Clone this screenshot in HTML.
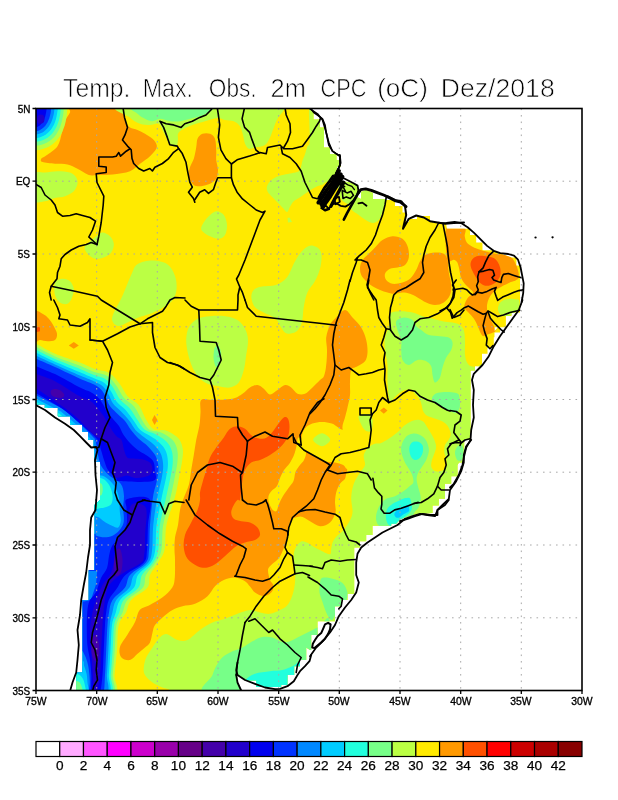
<!DOCTYPE html>
<html lang="pt"><head><meta charset="utf-8"><title>Temp. Max. Obs. 2m CPC (oC) Dez/2018</title>
<style>
html,body{margin:0;padding:0;background:#fff;}
body{width:618px;height:800px;overflow:hidden;position:relative;font-family:"Liberation Sans","DejaVu Sans",sans-serif;}
svg{position:absolute;left:0;top:0;display:block}
.ax{position:absolute;font-size:11.3px;line-height:12px;color:#000;white-space:nowrap;-webkit-text-stroke:0.35px #000;}
.ay{transform:scaleX(.88);transform-origin:right center;}
.axx{transform:scaleX(.92);transform-origin:center center;}
.cb{position:absolute;font-size:13.6px;line-height:14px;-webkit-text-stroke:0.25px #000;color:#000;width:30px;text-align:center;}
</style></head><body>
<svg width="618" height="800" viewBox="0 0 618 800">
<defs><clipPath id="fr"><rect x="36.0" y="108.5" width="546.0" height="582.0"/></clipPath>
<clipPath id="land"><path d="M36.0,108.5L310.0,108.5L313.5,112.0L313.5,119.5L320.0,119.5L320.0,127.5L324.0,127.5L324.0,147.5L330.0,147.5L330.0,154.0L336.5,154.0L336.5,160.0L340.5,160.0L340.5,167.0L337.0,167.0L337.0,176.0L335.0,180.0L338.0,181.0L348.0,182.0L357.0,185.0L359.0,192.0L357.0,197.0L361.0,199.0L361.0,192.0L366.0,190.0L373.0,193.0L373.0,199.0L386.0,199.0L386.0,200.0L395.0,200.0L395.0,206.0L402.5,206.0L402.5,212.5L406.0,212.5L406.0,222.0L409.0,222.0L409.0,219.0L417.0,219.0L417.0,216.0L430.0,216.0L430.0,222.0L433.0,222.0L433.0,223.0L446.0,223.0L446.9,228.8L470.0,228.8L470.0,235.0L476.2,235.0L476.2,242.5L482.5,242.5L482.5,250.2L491.9,250.2L511.5,257.6L516.4,257.6L516.4,265.4L520.0,265.4L520.0,312.6L511.5,312.6L511.5,316.1L505.9,316.1L505.9,327.2L494.5,327.2L494.5,337.3L488.8,337.3L500.0,325.0L500.0,332.5L493.8,332.5L493.8,347.5L487.5,347.5L487.5,353.8L482.0,353.8L482.0,366.2L475.0,366.2L475.0,370.5L470.5,370.5L470.5,440.0L464.2,440.0L464.2,447.5L462.0,462.5L457.5,462.5L457.5,475.0L452.0,475.0L462.5,456.2L462.5,462.5L457.5,462.5L457.5,476.2L451.2,476.2L451.2,483.8L445.0,483.8L445.0,498.8L438.8,498.8L438.8,505.5L432.5,505.5L432.5,513.0L415.0,514.2L405.0,517.5L400.0,519.5L396.2,523.8L391.2,523.8L391.2,525.8L372.5,525.8L372.5,535.0L366.2,535.0L366.2,541.2L360.0,541.2L360.0,547.5L354.2,547.5L354.2,593.8L347.5,593.8L347.5,600.0L341.2,600.0L341.2,606.2L335.0,606.2L335.0,621.2L317.5,621.2L317.5,635.0L311.2,635.0L311.2,650.0L310.0,650.0L306.2,647.5L306.2,660.0L300.0,660.0L300.0,666.2L294.2,666.2L294.2,675.0L287.5,675.0L287.5,685.0L281.2,685.0L281.2,687.0L256.2,687.0L256.2,680.5L245.0,680.5L241.2,676.2L237.0,675.0L237.5,683.8L241.2,690.5L70.0,690.5L76.2,690.5L76.2,672.5L82.5,672.5L82.5,600.0L88.8,600.0L88.8,570.0L94.5,570.0L94.5,505.0L100.0,500.0L100.0,461.8L94.5,461.8L94.5,447.2L93.7,447.2L93.7,439.8L88.0,439.8L88.0,431.7L82.3,431.7L82.3,424.4L70.1,424.4L70.1,416.3L57.9,416.3L57.9,408.1L44.9,408.1L44.9,404.3L34.0,404.3L36.0,108.5Z"/></clipPath></defs>
<g clip-path="url(#fr)"><g clip-path="url(#land)" shape-rendering="auto">
<path d="M30.0,100.0L600.0,100.0L600.0,700.0L30.0,700.0Z" fill="#ffea00"/>
<path d="M73.0,105.0C64.0,106.2 71.4,109.7 70.0,112.5C68.6,115.3 65.8,118.7 64.5,122.0C63.2,125.3 63.2,128.5 62.0,132.5C60.8,136.5 60.1,142.4 57.5,146.2C54.9,150.1 49.0,153.4 46.2,155.5C43.5,157.6 41.9,157.7 41.2,158.8C40.6,159.8 40.2,161.2 42.5,162.0C44.8,162.8 50.8,163.3 55.0,163.8C59.2,164.2 63.8,163.7 67.5,164.5C71.2,165.3 74.0,167.0 77.5,168.8C81.0,170.5 85.4,174.0 88.8,175.0C92.1,176.0 93.5,175.1 97.5,175.0C101.5,174.9 107.1,175.1 112.5,174.5C117.9,173.9 125.4,173.0 130.0,171.2C134.6,169.5 136.7,166.2 140.0,163.8C143.3,161.2 147.3,158.8 150.0,156.2C152.7,153.8 155.2,150.8 156.2,148.8C157.3,146.7 156.9,145.4 156.2,143.8C155.6,142.1 154.4,140.4 152.5,138.8C150.6,137.1 147.5,135.2 145.0,133.8C142.5,132.3 140.0,131.0 137.5,130.0C135.0,129.0 131.9,128.8 130.0,127.5C128.1,126.2 127.2,124.6 126.2,122.5C125.3,120.4 124.8,117.9 124.5,115.0C124.2,112.1 132.8,106.7 124.2,105.0C115.7,103.3 82.0,103.8 73.0,105.0Z" fill="#ff9900"/>
<path d="M202.5,133.8C204.6,132.9 207.9,132.9 210.0,133.8C212.1,134.6 214.0,136.0 215.0,138.8C216.0,141.5 216.0,146.5 216.2,150.0C216.5,153.5 216.0,156.7 216.2,160.0C216.5,163.3 218.0,166.9 218.0,170.0C218.0,173.1 217.6,176.5 216.2,178.8C214.9,181.0 212.5,182.5 210.0,183.8C207.5,185.0 204.0,186.0 201.2,186.2C198.5,186.5 195.8,186.5 193.8,185.0C191.7,183.5 189.5,180.2 188.8,177.5C188.0,174.8 188.7,171.9 189.5,168.8C190.3,165.6 192.6,162.3 193.8,158.8C194.9,155.2 195.6,150.8 196.2,147.5C196.9,144.2 196.5,141.0 197.5,138.8C198.5,136.5 200.4,134.6 202.5,133.8Z" fill="#ff9900"/>
<path d="M375.0,247.5C377.5,245.0 379.6,241.9 382.5,240.0C385.4,238.1 389.2,236.5 392.5,236.2C395.8,236.0 399.9,236.9 402.5,238.8C405.1,240.6 407.0,244.4 408.0,247.5C409.0,250.6 409.2,254.6 408.8,257.5C408.2,260.4 406.9,263.3 405.0,265.0C403.1,266.7 400.0,266.9 397.5,267.5C395.0,268.1 392.1,267.7 390.0,268.8C387.9,269.8 385.6,271.9 385.0,273.8C384.4,275.6 385.0,278.3 386.2,280.0C387.5,281.7 389.8,283.3 392.5,283.8C395.2,284.2 399.6,283.3 402.5,282.5C405.4,281.7 407.7,280.8 410.0,278.8C412.3,276.7 414.6,272.9 416.2,270.0C417.9,267.1 418.5,263.8 420.0,261.2C421.5,258.8 422.5,256.5 425.0,255.0C427.5,253.5 431.9,252.7 435.0,252.5C438.1,252.3 441.7,252.5 443.8,253.8C445.8,255.0 446.7,256.9 447.5,260.0C448.3,263.1 448.1,268.3 448.8,272.5C449.4,276.7 451.0,281.2 451.2,285.0C451.5,288.8 451.2,292.1 450.0,295.0C448.8,297.9 446.2,300.8 443.8,302.5C441.2,304.2 437.9,305.0 435.0,305.0C432.1,305.0 429.2,303.8 426.2,302.5C423.3,301.2 420.2,299.0 417.5,297.5C414.8,296.0 412.5,294.6 410.0,293.8C407.5,292.9 405.2,292.5 402.5,292.5C399.8,292.5 396.2,293.8 393.8,293.8C391.2,293.8 389.8,293.1 387.5,292.5C385.2,291.9 382.5,291.0 380.0,290.0C377.5,289.0 374.8,287.7 372.5,286.2C370.2,284.8 368.1,283.1 366.2,281.2C364.4,279.4 362.3,277.3 361.2,275.0C360.2,272.7 359.8,270.0 360.0,267.5C360.2,265.0 361.2,262.1 362.5,260.0C363.8,257.9 365.4,257.1 367.5,255.0C369.6,252.9 372.5,250.0 375.0,247.5Z" fill="#ff9900"/>
<path d="M446.5,228.0C449.3,222.5 461.4,226.7 464.4,228.0C467.4,229.4 464.3,233.7 464.7,236.1C465.1,238.6 465.5,240.9 466.8,242.6C468.1,244.4 470.2,245.5 472.5,246.7C474.8,247.9 478.1,249.1 480.6,250.0C483.2,250.9 485.5,251.4 488.0,252.1C490.4,252.7 492.4,253.2 495.3,253.7C498.1,254.2 502.3,254.2 505.0,254.8C507.8,255.5 509.8,256.1 511.5,257.6C513.3,259.1 514.5,261.7 515.6,263.8C516.7,265.9 517.5,268.0 518.0,270.3C518.6,272.6 519.3,275.9 518.9,277.6C518.5,279.3 517.0,279.6 515.6,280.4C514.3,281.1 512.4,281.3 510.7,282.0C509.1,282.7 507.5,283.8 505.9,284.6C504.2,285.4 502.6,286.0 501.0,286.9C499.4,287.7 497.6,288.6 496.1,289.8C494.6,291.0 492.9,292.4 491.7,293.9C490.5,295.4 489.5,297.0 488.8,298.7C488.0,300.5 487.4,302.5 487.1,304.4C486.9,306.3 486.9,308.4 487.1,310.1C487.4,311.9 488.1,313.2 488.8,315.0C489.5,316.8 490.3,318.7 491.2,320.7C492.2,322.7 493.8,325.4 494.5,327.2C495.1,329.0 495.7,330.3 495.3,331.3C494.9,332.2 493.4,332.3 492.0,332.9C490.7,333.4 488.6,334.0 487.1,334.5C485.7,335.1 484.2,336.4 483.1,336.1C482.0,335.9 481.5,334.4 480.6,332.9C479.8,331.4 479.3,329.5 478.2,327.2C477.1,324.9 475.8,321.5 474.1,319.1C472.5,316.6 470.1,314.5 468.5,312.6C466.8,310.7 464.9,309.3 464.4,307.7C463.8,306.1 464.5,304.6 465.2,302.8C465.9,301.0 467.1,298.7 468.5,297.1C469.8,295.5 473.1,294.4 473.3,293.1C473.6,291.7 471.6,290.6 470.1,289.0C468.6,287.4 465.9,285.3 464.4,283.3C462.8,281.3 461.7,279.2 460.8,276.8C459.9,274.4 459.8,271.1 459.2,268.7C458.6,266.2 458.0,263.6 457.1,262.1C456.2,260.7 455.0,259.9 453.8,259.7C452.7,259.6 451.2,261.1 450.1,261.3C449.0,261.6 447.9,266.9 447.3,261.3C446.7,255.8 443.7,233.6 446.5,228.0Z" fill="#ff9900"/>
<path d="M201.2,400.0C203.2,397.9 207.3,400.2 212.5,400.0C217.7,399.8 227.5,399.8 232.5,398.8C237.5,397.7 239.6,395.6 242.5,393.8C245.4,391.9 247.5,389.0 250.0,387.5C252.5,386.0 255.2,384.8 257.5,385.0C259.8,385.2 261.7,387.2 263.8,388.8C265.8,390.3 267.7,394.3 270.0,394.5C272.3,394.7 275.0,391.6 277.5,390.0C280.0,388.4 282.7,385.4 285.0,385.0C287.3,384.6 289.2,386.0 291.2,387.5C293.3,389.0 295.2,392.7 297.5,393.8C299.8,394.8 302.5,394.8 305.0,393.8C307.5,392.7 310.0,389.8 312.5,387.5C315.0,385.2 318.1,381.9 320.0,380.0C321.9,378.1 323.0,378.5 324.0,376.0C325.0,373.5 325.8,369.3 326.2,365.0C326.8,360.7 327.0,354.6 327.0,350.0C327.0,345.4 325.8,341.7 326.2,337.5C326.8,333.3 328.3,328.3 330.0,325.0C331.7,321.7 333.8,320.0 336.2,317.5C338.8,315.0 342.3,310.0 345.0,310.0C347.7,310.0 349.8,314.6 352.5,317.5C355.2,320.4 359.0,323.8 361.2,327.5C363.5,331.2 365.2,335.8 366.2,340.0C367.3,344.2 367.7,349.0 367.5,352.5C367.3,356.0 366.7,359.0 365.0,361.2C363.3,363.5 359.8,364.8 357.5,366.2C355.2,367.7 352.5,367.3 351.2,370.0C350.0,372.7 350.2,378.3 350.0,382.5C349.8,386.7 350.4,390.8 350.0,395.0C349.6,399.2 348.3,403.8 347.5,407.5C346.7,411.2 345.9,414.1 345.0,417.5C344.1,420.9 342.4,423.9 342.4,427.6C342.4,431.4 344.4,435.4 345.0,440.0C345.6,444.6 345.6,450.1 346.0,455.0C346.4,459.9 347.2,466.1 347.2,469.1C347.2,472.1 346.6,471.4 346.2,473.0C345.9,474.6 346.0,477.0 345.0,478.8C344.0,480.5 341.5,481.5 340.0,483.8C338.5,486.0 337.1,489.4 336.2,492.5C335.4,495.6 335.1,499.2 335.0,502.5C334.9,505.8 336.3,509.2 335.5,512.5C334.7,515.8 332.6,520.2 330.0,522.5C327.4,524.8 323.3,526.5 320.0,526.2C316.7,526.0 313.3,522.9 310.0,521.2C306.7,519.6 303.3,516.3 300.0,516.5C296.7,516.7 292.4,518.0 290.0,522.2C287.6,526.5 287.4,536.0 285.8,541.8C284.1,547.5 282.4,552.6 280.0,556.5C277.6,560.4 273.2,562.8 271.2,565.0C269.2,567.2 268.2,567.5 268.0,570.0C267.8,572.5 269.1,577.4 270.0,580.0C270.9,582.6 273.3,583.7 273.5,585.8C273.7,587.8 272.9,590.8 271.2,592.5C269.6,594.2 266.5,596.2 263.8,596.2C261.0,596.2 257.3,594.1 255.0,592.5C252.7,590.9 251.7,588.4 250.0,586.5C248.3,584.6 247.5,582.8 245.0,581.2C242.5,579.8 238.5,577.7 235.0,577.5C231.5,577.3 227.1,578.5 223.8,580.0C220.4,581.5 217.7,583.5 215.0,586.2C212.3,589.0 210.8,593.3 207.5,596.2C204.2,599.2 199.2,602.1 195.0,603.8C190.8,605.4 186.2,605.2 182.5,606.2C178.8,607.3 175.8,608.1 172.5,610.0C169.2,611.9 165.4,615.0 162.5,617.5C159.6,620.0 156.7,622.5 155.0,625.0C153.3,627.5 153.3,629.6 152.5,632.5C151.7,635.4 151.2,640.0 150.0,642.5C148.8,645.0 147.1,645.6 145.0,647.5C142.9,649.4 140.0,651.7 137.5,653.8C135.0,655.8 132.7,659.4 130.0,660.0C127.3,660.6 122.9,659.3 121.2,657.2C119.5,655.1 118.9,650.9 119.9,647.2C120.9,643.5 124.9,638.9 127.4,634.8C129.9,630.6 132.8,626.5 134.9,622.3C137.0,618.1 137.4,612.7 139.9,609.8C142.4,606.9 146.1,607.0 149.8,604.9C153.5,602.8 158.6,600.3 162.3,597.4C166.1,594.5 170.2,590.7 172.3,587.4C174.4,584.1 174.3,582.0 174.8,577.4C175.2,572.8 175.0,564.6 175.0,560.0C175.0,555.4 174.5,553.8 174.5,550.0C174.5,546.2 174.4,541.7 175.0,537.5C175.6,533.3 177.2,529.6 178.0,525.0C178.8,520.4 179.2,514.2 180.0,510.0C180.8,505.8 181.5,504.2 183.0,500.0C184.5,495.8 187.4,490.0 188.8,485.0C190.1,480.0 190.4,475.0 191.2,470.0C192.1,465.0 192.9,460.0 193.8,455.0C194.6,450.0 195.3,445.0 196.2,440.0C197.2,435.0 198.8,429.6 199.5,425.0C200.2,420.4 200.2,416.7 200.5,412.5C200.8,408.3 199.2,402.1 201.2,400.0Z" fill="#ff9900"/>
<path d="M301.7,436.6C302.1,434.0 303.2,430.6 305.0,428.5C306.7,426.3 309.4,424.7 312.3,423.6C315.1,422.5 318.8,421.9 322.0,421.9C325.3,421.9 329.1,422.6 331.8,423.6C334.5,424.5 336.4,426.6 338.3,427.6C340.2,428.7 340.5,429.7 343.2,430.1C345.9,430.5 352.7,423.7 354.6,430.1C356.4,436.4 355.8,461.8 354.6,468.3C353.3,474.8 349.1,469.7 347.2,469.1C345.3,468.6 345.2,466.1 343.2,465.0C341.1,464.0 337.8,463.1 335.0,462.6C332.3,462.1 329.3,462.3 326.9,461.8C324.5,461.2 322.8,460.4 320.4,459.4C318.0,458.3 314.7,456.8 312.3,455.3C309.8,453.8 307.4,452.3 305.8,450.4C304.1,448.5 303.2,446.2 302.5,443.9C301.8,441.6 301.3,439.2 301.7,436.6Z" fill="#ffea00"/>
<path d="M302.0,440.0C303.3,442.3 305.7,448.7 306.0,452.0C306.3,455.3 305.0,457.8 304.0,460.0C303.0,462.2 301.4,463.0 300.0,465.0C298.6,467.0 296.6,469.3 295.5,472.0C294.4,474.7 294.7,478.3 293.5,481.0C292.3,483.7 290.2,485.5 288.5,488.0C286.8,490.5 284.6,493.3 283.0,496.0C281.4,498.7 280.1,501.5 279.0,504.0C277.9,506.5 277.5,510.0 276.5,511.0C275.5,512.0 274.1,511.3 272.8,510.0C271.6,508.7 269.7,505.3 269.0,503.0C268.3,500.7 268.1,498.3 268.5,496.3C268.9,494.3 270.1,492.7 271.5,491.0C272.9,489.3 275.6,488.2 277.0,486.0C278.4,483.8 278.8,480.7 280.0,478.0C281.2,475.3 282.4,472.4 284.0,470.0C285.6,467.6 287.8,465.9 289.5,463.4C291.2,460.9 292.8,457.9 294.0,455.0C295.2,452.1 295.8,448.8 296.5,446.0C297.2,443.2 297.1,439.0 298.0,438.0C298.9,437.0 300.7,437.7 302.0,440.0Z" fill="#ffea00"/>
<path d="M35.0,312.5C36.2,308.1 40.2,312.7 42.5,313.8C44.8,314.8 46.9,316.7 48.8,318.8C50.6,320.8 52.4,323.8 53.8,326.2C55.1,328.8 56.8,331.5 57.0,333.8C57.2,336.0 56.6,338.8 55.0,340.0C53.4,341.2 50.0,341.2 47.5,341.2C45.0,341.2 42.1,340.2 40.0,340.0C37.9,339.8 35.8,344.6 35.0,340.0C34.2,335.4 33.8,316.9 35.0,312.5Z" fill="#ff9900"/>
<path d="M68.8,345.5L73.8,342.0L78.8,345.5L73.8,348.8Z" fill="#ff9900"/>
<path d="M152.0,420.0L154.5,415.0L157.5,420.0L154.5,425.0Z" fill="#ff9900"/>
<path d="M380.0,410.5L383.8,407.5L387.5,410.5L383.8,413.8Z" fill="#ff9900"/>
<path d="M230.0,428.8C232.3,426.9 235.0,426.2 237.5,426.2C240.0,426.2 242.5,427.1 245.0,428.8C247.5,430.4 249.6,434.6 252.5,436.2C255.4,437.9 259.6,439.0 262.5,438.8C265.4,438.5 267.5,437.3 270.0,435.0C272.5,432.7 275.2,427.9 277.5,425.0C279.8,422.1 282.0,418.5 283.8,417.5C285.5,416.5 287.0,417.1 288.0,418.8C289.0,420.4 289.6,424.4 289.5,427.5C289.4,430.6 289.1,434.2 287.5,437.5C285.9,440.8 282.9,444.6 280.0,447.5C277.1,450.4 273.3,452.9 270.0,455.0C266.7,457.1 263.1,458.8 260.0,460.0C256.9,461.2 253.8,460.8 251.2,462.5C248.8,464.2 246.5,467.1 245.0,470.0C243.5,472.9 243.1,476.7 242.5,480.0C241.9,483.3 241.7,486.7 241.2,490.0C240.8,493.3 240.6,498.3 240.0,500.0C239.4,501.7 238.5,499.2 237.5,500.0C236.5,500.8 234.8,502.9 233.8,505.0C232.7,507.1 231.2,510.2 231.2,512.5C231.2,514.8 232.1,517.3 233.8,518.8C235.4,520.2 238.5,520.6 241.2,521.2C244.0,521.9 247.3,521.5 250.0,522.5C252.7,523.5 255.8,525.4 257.5,527.5C259.2,529.6 260.4,532.9 260.0,535.0C259.6,537.1 257.5,538.8 255.0,540.0C252.5,541.2 248.1,541.5 245.0,542.5C241.9,543.5 239.2,544.4 236.2,546.2C233.3,548.1 230.6,551.0 227.5,553.8C224.4,556.5 220.8,560.2 217.5,562.5C214.2,564.8 210.8,566.9 207.5,567.5C204.2,568.1 200.8,567.7 197.5,566.2C194.2,564.8 189.8,561.9 187.5,558.8C185.2,555.6 184.2,551.5 183.8,547.5C183.3,543.5 183.8,539.2 185.0,535.0C186.2,530.8 189.2,526.7 191.2,522.5C193.3,518.3 196.0,513.8 197.5,510.0C199.0,506.2 199.6,502.9 200.0,500.0C200.4,497.1 199.6,495.4 200.0,492.5C200.4,489.6 201.5,486.2 202.5,482.5C203.5,478.8 205.0,474.2 206.2,470.0C207.5,465.8 208.3,461.2 210.0,457.5C211.7,453.8 214.0,450.8 216.2,447.5C218.5,444.2 221.5,440.6 223.8,437.5C226.0,434.4 227.7,430.6 230.0,428.8Z" fill="#ff5000"/>
<path d="M470.9,262.1C471.4,260.6 472.7,258.7 474.1,257.6C475.6,256.5 477.7,255.8 479.8,255.7C482.0,255.5 484.8,256.1 487.1,256.5C489.5,256.9 491.9,257.1 493.7,258.1C495.4,259.0 496.6,260.5 497.7,262.1C498.8,263.8 499.7,265.8 500.2,267.9C500.6,269.9 500.8,272.5 500.5,274.4C500.2,276.2 499.5,277.7 498.5,279.2C497.5,280.7 496.1,282.2 494.5,283.3C492.8,284.4 490.7,285.5 488.8,285.7C486.9,286.0 484.7,285.6 483.1,284.9C481.5,284.2 480.2,282.9 479.0,281.7C477.9,280.5 477.0,279.1 476.1,277.6C475.2,276.1 474.2,274.5 473.3,272.7C472.5,271.0 471.3,268.8 470.9,267.0C470.5,265.3 470.3,263.7 470.9,262.1Z" fill="#ff5000"/>
<path d="M34.5,326.2L40.0,327.5L40.0,331.2L34.5,332.5Z" fill="#ff5000"/>
<path d="M125.5,105.0C99.7,107.1 127.6,114.4 130.0,117.5C132.4,120.6 136.7,122.5 140.0,123.8C143.3,125.0 146.9,125.0 150.0,125.0C153.1,125.0 156.7,122.9 158.8,123.8C160.8,124.6 161.2,127.7 162.5,130.0C163.8,132.3 165.0,135.0 166.2,137.5C167.5,140.0 168.3,143.5 170.0,145.0C171.7,146.5 174.9,147.1 176.2,146.2C177.6,145.4 177.7,142.1 178.0,140.0C178.3,137.9 177.2,135.5 178.0,133.8C178.8,132.0 180.1,131.0 182.5,129.5C184.9,128.0 188.8,126.4 192.5,125.0C196.2,123.6 200.8,122.4 205.0,121.2C209.2,120.1 214.2,118.2 217.5,118.0C220.8,117.8 222.3,119.5 225.0,120.0C227.7,120.5 231.2,120.2 233.8,121.2C236.2,122.3 238.5,124.0 240.0,126.2C241.5,128.5 242.2,132.1 243.0,135.0C243.8,137.9 244.0,141.5 245.0,143.8C246.0,146.0 247.1,148.1 248.8,148.8C250.4,149.4 252.3,148.1 255.0,147.5C257.7,146.9 262.5,146.7 265.0,145.0C267.5,143.3 268.5,140.4 270.0,137.5C271.5,134.6 272.5,130.6 273.8,127.5C275.0,124.4 275.8,121.7 277.5,118.8C279.2,115.8 282.5,112.3 283.8,110.0C285.0,107.7 311.4,105.8 285.0,105.0C258.6,104.2 151.3,102.9 125.5,105.0Z" fill="#bbff44"/>
<path d="M309.7,100.0C308.0,106.7 310.1,132.2 309.7,140.0C309.3,147.8 308.1,144.1 307.3,146.5C306.5,148.9 305.7,152.2 304.9,154.6C304.1,157.0 303.1,158.8 302.4,161.0C301.7,163.2 301.5,165.7 300.8,167.5C300.1,169.3 299.9,170.7 298.4,171.6C296.9,172.5 294.3,172.7 291.9,173.2C289.5,173.7 286.5,174.1 283.8,174.8C281.1,175.5 278.0,176.1 275.7,177.2C273.4,178.3 271.6,179.7 270.1,181.3C268.6,182.9 267.2,185.2 266.8,186.9C266.4,188.7 266.9,190.2 267.7,191.8C268.5,193.4 270.1,194.8 271.7,196.6C273.3,198.3 275.5,200.4 277.4,202.3C279.3,204.2 281.4,206.4 283.0,208.0C284.6,209.6 285.9,212.3 287.1,212.0C288.3,211.7 289.2,208.1 290.3,206.3C291.4,204.6 292.1,202.8 293.5,201.5C294.9,200.2 296.8,199.4 298.4,198.3C300.0,197.2 301.7,196.1 303.3,195.0C304.9,193.9 306.5,192.9 308.1,191.8C309.7,190.7 311.4,189.4 313.0,188.5C314.6,187.6 316.2,186.8 317.8,186.1C319.4,185.4 321.3,185.2 322.7,184.5C324.1,183.8 324.1,182.8 326.0,182.0C327.9,181.2 331.3,182.0 334.0,180.0C336.7,178.0 340.2,175.0 342.0,170.0C343.8,165.0 346.2,158.3 345.0,150.0C343.8,141.7 339.2,128.3 335.0,120.0C330.8,111.7 324.2,103.3 320.0,100.0C315.8,96.7 311.4,93.3 309.7,100.0Z" fill="#bbff44"/>
<path d="M287.5,218.0L289.5,217.5L292.0,222.0L288.0,222.5Z" fill="#bbff44"/>
<path d="M337.4,180.7C338.3,178.7 341.4,176.8 343.8,176.7C346.3,176.6 349.4,178.7 351.9,179.9C354.5,181.2 357.7,182.4 359.2,184.0C360.7,185.6 359.9,189.1 360.8,189.6C361.8,190.2 362.8,187.4 364.9,187.2C366.9,187.1 370.3,188.0 373.0,188.8C375.7,189.6 378.8,190.9 381.1,192.1C383.3,193.3 386.0,194.0 386.7,196.1C387.4,198.3 385.8,202.5 385.1,205.0C384.4,207.6 383.5,209.3 382.7,211.5C381.9,213.6 381.3,216.2 380.2,218.0C379.2,219.7 377.7,221.2 376.2,222.0C374.7,222.8 373.2,223.2 371.3,222.8C369.5,222.4 367.0,220.9 364.9,219.6C362.7,218.2 360.6,216.3 358.4,214.7C356.2,213.1 353.5,211.5 351.9,209.9C350.3,208.3 350.0,206.4 348.7,205.0C347.3,203.7 345.3,203.1 343.8,201.8C342.3,200.4 340.7,199.1 339.8,196.9C338.8,194.8 338.6,191.5 338.2,188.8C337.8,186.1 336.4,182.8 337.4,180.7Z" fill="#bbff44"/>
<path d="M33.8,174.5C35.6,169.9 41.0,173.0 45.0,172.5C49.0,172.0 53.3,171.2 57.5,171.2C61.7,171.2 66.9,171.5 70.0,172.5C73.1,173.5 75.0,175.6 76.2,177.5C77.5,179.4 77.9,181.5 77.5,183.8C77.1,186.0 75.8,189.2 73.8,191.2C71.7,193.3 68.1,195.1 65.0,196.2C61.9,197.4 58.3,197.2 55.0,198.0C51.7,198.8 48.5,200.9 45.0,201.2C41.5,201.6 35.6,204.5 33.8,200.0C31.9,195.5 31.9,179.1 33.8,174.5Z" fill="#bbff44"/>
<path d="M102.5,232.5C104.8,232.5 108.1,234.4 110.0,236.2C111.9,238.1 113.5,241.0 113.8,243.8C114.0,246.5 112.9,250.2 111.2,252.5C109.6,254.8 106.5,256.5 103.8,257.5C101.0,258.5 97.7,259.4 95.0,258.8C92.3,258.1 89.2,255.6 87.5,253.8C85.8,251.9 84.3,249.4 84.5,247.5C84.7,245.6 86.8,244.4 88.8,242.5C90.7,240.6 94.0,237.9 96.2,236.2C98.5,234.6 100.2,232.5 102.5,232.5Z" fill="#bbff44"/>
<path d="M113.0,314.8C114.6,310.4 119.3,302.9 122.4,296.0C125.5,289.1 129.3,278.9 131.8,273.6C134.3,268.3 134.0,266.5 137.4,264.3C140.8,262.1 147.3,260.6 152.3,260.6C157.3,260.6 163.6,261.8 167.3,264.3C171.1,266.8 173.2,271.4 174.8,275.5C176.4,279.6 176.9,284.6 176.6,288.6C176.3,292.7 175.1,296.7 172.9,299.8C170.7,302.9 167.0,305.1 163.6,307.3C160.2,309.5 156.1,311.3 152.3,312.9C148.6,314.4 145.2,315.1 141.1,316.6C137.0,318.2 131.7,320.6 128.0,322.2C124.3,323.8 121.2,326.0 118.7,326.0C116.2,326.0 114.0,324.1 113.0,322.2C112.0,320.3 111.4,319.2 113.0,314.8Z" fill="#bbff44"/>
<path d="M55.0,282.5C56.2,279.8 60.0,279.0 62.5,278.8C65.0,278.5 68.1,279.6 70.0,281.2C71.9,282.9 73.4,286.0 73.8,288.8C74.1,291.5 73.0,295.0 72.0,297.5C71.0,300.0 69.5,302.9 67.5,303.8C65.5,304.6 62.1,304.0 60.0,302.5C57.9,301.0 55.8,298.3 55.0,295.0C54.2,291.7 53.8,285.2 55.0,282.5Z" fill="#bbff44"/>
<path d="M186.2,340.0C186.4,335.6 186.9,331.0 188.8,327.5C190.6,324.0 194.0,320.6 197.5,318.8C201.0,316.9 205.4,316.7 210.0,316.2C214.6,315.8 220.4,315.6 225.0,316.2C229.6,316.9 234.2,317.9 237.5,320.0C240.8,322.1 243.2,325.4 245.0,328.8C246.8,332.1 247.8,335.6 248.0,340.0C248.2,344.4 247.0,350.0 246.2,355.0C245.5,360.0 245.0,365.4 243.8,370.0C242.5,374.6 241.0,379.6 238.8,382.5C236.5,385.4 233.3,386.9 230.0,387.5C226.7,388.1 222.5,386.9 218.8,386.2C215.0,385.6 210.8,385.2 207.5,383.8C204.2,382.3 201.2,380.2 198.8,377.5C196.2,374.8 194.3,371.5 192.5,367.5C190.7,363.5 189.0,358.3 188.0,353.8C187.0,349.2 186.1,344.4 186.2,340.0Z" fill="#bbff44"/>
<path d="M253.3,290.5C254.9,288.6 257.0,287.6 260.7,286.7C264.4,285.8 271.3,286.4 275.7,284.9C280.1,283.3 283.8,281.1 286.9,277.4C290.0,273.6 291.9,266.8 294.4,262.4C296.9,258.0 299.1,254.0 301.9,251.2C304.7,248.4 308.1,245.6 311.2,245.6C314.3,245.6 319.0,247.8 320.6,251.2C322.2,254.6 321.5,261.2 320.6,266.2C319.7,271.2 317.2,276.8 315.0,281.1C312.8,285.5 309.4,287.9 307.5,292.3C305.6,296.7 304.6,302.3 303.7,307.3C302.8,312.3 303.1,318.1 301.9,322.2C300.7,326.2 298.8,329.7 296.3,331.6C293.8,333.5 289.4,334.1 286.9,333.5C284.4,332.9 283.2,330.4 281.3,327.9C279.4,325.4 278.5,321.0 275.7,318.5C272.9,316.0 267.9,314.8 264.5,312.9C261.1,311.0 257.3,309.8 255.1,307.3C252.9,304.8 251.7,300.8 251.4,298.0C251.1,295.2 251.8,292.4 253.3,290.5Z" fill="#bbff44"/>
<path d="M313.1,439.8C313.1,437.7 319.2,433.3 322.0,433.3C324.9,433.3 330.2,437.7 330.2,439.8C330.2,442.0 324.9,446.3 322.0,446.3C319.2,446.3 313.1,442.0 313.1,439.8Z" fill="#bbff44"/>
<path d="M498.8,305.0C499.6,302.9 501.5,301.0 503.8,300.0C506.0,299.0 510.2,298.3 512.5,298.8C514.8,299.2 516.8,300.6 517.5,302.5C518.2,304.4 518.0,307.9 517.0,310.0C516.0,312.1 513.5,314.0 511.2,315.0C509.0,316.0 505.8,316.7 503.8,316.2C501.7,315.8 499.6,314.4 498.8,312.5C497.9,310.6 497.9,307.1 498.8,305.0Z" fill="#bbff44"/>
<path d="M498.8,306.2C499.6,304.6 501.5,302.3 503.8,301.2C506.0,300.2 510.0,300.2 512.5,300.0C515.0,299.8 517.7,298.3 518.8,300.0C519.8,301.7 520.0,307.7 518.8,310.0C517.5,312.3 513.8,313.1 511.2,313.8C508.8,314.4 505.8,314.2 503.8,313.8C501.7,313.3 499.6,312.5 498.8,311.2C497.9,310.0 497.9,307.9 498.8,306.2Z" fill="#bbff44"/>
<path d="M359.2,415.5C361.0,414.2 369.2,413.1 371.2,415.5C373.3,417.9 372.7,427.5 371.8,430.0C370.8,432.5 367.4,431.7 365.5,430.5C363.6,429.3 361.5,425.5 360.5,423.0C359.5,420.5 357.5,416.8 359.2,415.5Z" fill="#bbff44"/>
<path d="M390.0,313.8C391.8,311.5 396.2,311.5 400.0,311.2C403.8,311.0 408.8,311.7 412.5,312.5C416.2,313.3 419.2,315.2 422.5,316.2C425.8,317.3 429.2,317.9 432.5,318.8C435.8,319.6 439.2,320.6 442.5,321.2C445.8,321.9 449.6,321.9 452.5,322.5C455.4,323.1 458.1,323.6 460.0,325.0C461.9,326.4 463.2,328.2 464.0,331.0C464.8,333.8 464.8,338.0 465.0,342.0C465.2,346.0 464.5,351.3 465.0,355.0C465.5,358.7 466.3,362.0 468.0,364.0C469.7,366.0 470.5,366.5 475.0,367.0C479.5,367.5 491.7,353.2 495.0,367.0C498.3,380.8 504.2,424.5 495.0,450.0C485.8,475.5 455.8,505.0 440.0,520.0C424.2,535.0 413.3,526.7 400.0,540.0C386.7,553.3 371.7,583.3 360.0,600.0C348.3,616.7 341.7,626.7 330.0,640.0C318.3,653.3 303.3,670.0 290.0,680.0C276.7,690.0 270.0,696.7 250.0,700.0C230.0,703.3 183.3,701.6 170.0,700.0C156.7,698.4 171.2,692.6 170.0,690.5C168.8,688.4 165.4,688.8 162.5,687.5C159.6,686.2 155.4,684.6 152.5,682.5C149.6,680.4 146.5,677.5 145.0,675.0C143.5,672.5 143.5,670.4 143.8,667.5C144.0,664.6 144.8,660.8 146.2,657.5C147.7,654.2 150.4,650.6 152.5,647.5C154.6,644.4 156.5,641.0 158.8,638.8C161.0,636.5 163.1,633.8 166.2,634.0C169.4,634.2 174.0,639.0 177.5,640.0C181.0,641.0 183.8,641.7 187.5,640.0C191.2,638.3 195.8,632.9 200.0,630.0C204.2,627.1 208.3,624.4 212.5,622.5C216.7,620.6 220.8,620.2 225.0,618.8C229.2,617.3 233.3,615.2 237.5,613.8C241.7,612.3 246.2,610.2 250.0,610.0C253.8,609.8 256.7,611.9 260.0,612.5C263.3,613.1 266.7,614.2 270.0,613.8C273.3,613.3 277.1,611.5 280.0,610.0C282.9,608.5 285.4,607.5 287.5,605.0C289.6,602.5 291.2,598.8 292.5,595.0C293.8,591.2 294.6,586.7 295.0,582.5C295.4,578.3 295.2,574.2 295.0,570.0C294.8,565.8 293.4,561.2 293.5,557.5C293.6,553.8 294.2,550.7 295.5,548.0C296.8,545.3 299.3,542.4 301.2,541.5C303.1,540.6 304.9,541.7 306.9,542.6C308.9,543.5 311.2,545.5 313.4,546.7C315.6,547.9 317.7,548.8 319.9,549.9C322.1,551.0 324.6,552.5 326.4,553.2C328.2,553.9 329.7,554.8 330.5,554.0C331.3,553.2 330.9,550.3 331.3,548.3C331.7,546.3 331.9,543.8 332.9,541.8C333.8,539.8 335.4,537.9 337.0,536.1C338.6,534.3 340.7,533.3 342.7,531.0C344.7,528.7 347.1,525.6 348.8,522.5C350.4,519.4 352.1,516.7 352.5,512.5C352.9,508.3 351.0,502.3 351.2,497.5C351.5,492.7 352.3,487.9 353.8,483.8C355.2,479.6 358.1,475.6 360.0,472.5C361.9,469.4 364.4,467.9 365.0,465.0C365.6,462.1 363.1,457.9 363.8,455.0C364.4,452.1 366.9,449.4 368.8,447.5C370.6,445.6 373.1,444.4 375.0,443.8C376.9,443.1 378.4,443.9 380.0,443.4C381.6,442.9 383.0,442.1 384.9,441.0C386.8,439.9 389.2,438.4 391.4,436.9C393.6,435.4 395.7,433.9 397.9,432.0C400.1,430.1 402.2,427.2 404.4,425.5C406.6,423.8 408.7,422.4 410.9,421.5C413.1,420.6 415.4,419.8 417.4,419.8C419.4,419.8 421.5,420.3 423.1,421.5C424.7,422.7 425.9,425.2 427.2,427.2C428.5,429.2 430.0,431.5 431.2,433.7C432.4,435.9 433.7,438.0 434.5,440.2C435.3,442.4 436.1,444.5 436.1,446.7C436.1,448.9 435.2,451.0 434.5,453.2C433.8,455.4 432.6,457.5 432.0,459.7C431.4,461.9 430.9,464.4 431.2,466.2C431.5,467.9 432.5,469.3 433.7,470.2C434.9,471.1 436.8,471.5 438.5,471.4C440.2,471.3 442.8,470.5 444.2,469.4C445.6,468.3 446.4,466.5 446.7,464.6C447.0,462.7 446.3,460.2 445.9,458.0C445.5,455.8 444.3,453.7 444.2,451.5C444.1,449.3 444.3,446.9 445.0,445.0C445.7,443.1 447.4,441.8 448.3,440.2C449.2,438.6 450.4,436.9 450.7,435.3C451.0,433.7 450.6,432.2 449.9,430.4C449.2,428.6 448.2,426.3 446.7,424.7C445.2,423.1 443.2,421.8 441.0,420.7C438.8,419.6 436.0,419.0 433.7,418.2C431.4,417.4 429.0,417.0 427.2,415.8C425.4,414.6 424.1,412.8 423.1,410.9C422.2,409.0 422.2,406.6 421.5,404.4C420.8,402.2 420.1,399.7 419.0,397.9C417.9,396.1 416.2,395.1 415.0,393.8C413.8,392.5 413.5,390.4 411.7,389.8C409.9,389.2 407.0,389.2 404.4,390.1C401.8,391.0 398.7,393.7 396.3,395.4C393.9,397.1 391.3,402.4 389.8,400.3C388.3,398.2 387.9,388.4 387.5,382.5C387.1,376.6 387.9,370.4 387.5,365.0C387.1,359.6 385.4,354.6 385.0,350.0C384.6,345.4 384.2,341.7 385.0,337.5C385.8,333.3 388.7,329.0 389.5,325.0C390.3,321.0 388.2,316.0 390.0,313.8Z" fill="#bbff44"/>
<path d="M201.2,227.5C201.9,225.0 205.0,220.2 207.5,217.5C210.0,214.8 213.5,211.7 216.2,211.2C219.0,210.8 222.0,212.7 223.8,215.0C225.5,217.3 226.8,221.7 227.0,225.0C227.2,228.3 226.4,232.7 225.0,235.0C223.6,237.3 221.2,238.5 218.8,238.8C216.2,239.0 212.5,237.3 210.0,236.2C207.5,235.2 205.2,234.0 203.8,232.5C202.3,231.0 200.6,230.0 201.2,227.5Z" fill="#bbff44"/>
<path d="M132.5,103.8C145.0,102.1 200.0,102.3 212.5,103.8C225.0,105.2 209.6,110.4 207.5,112.5C205.4,114.6 202.9,115.2 200.0,116.2C197.1,117.3 193.3,117.9 190.0,118.8C186.7,119.6 183.3,120.8 180.0,121.2C176.7,121.7 173.3,121.7 170.0,121.2C166.7,120.8 162.9,118.8 160.0,118.8C157.1,118.8 155.0,121.2 152.5,121.2C150.0,121.2 147.5,120.0 145.0,118.8C142.5,117.5 139.6,116.2 137.5,113.8C135.4,111.2 120.0,105.4 132.5,103.8Z" fill="#77ff88"/>
<path d="M215.0,347.5C215.8,346.5 217.7,345.2 218.8,346.2C219.8,347.3 221.0,351.0 221.2,353.8C221.5,356.5 220.8,360.3 220.0,362.5C219.2,364.7 217.3,367.4 216.2,367.0C215.2,366.6 214.2,362.4 213.8,360.0C213.3,357.6 213.5,354.6 213.8,352.5C214.0,350.4 214.2,348.5 215.0,347.5Z" fill="#77ff88"/>
<path d="M396.2,321.2C397.3,319.2 401.0,317.7 403.8,317.5C406.5,317.3 410.4,318.5 412.5,320.0C414.6,321.5 414.8,324.6 416.2,326.2C417.7,327.9 419.2,328.5 421.2,330.0C423.3,331.5 425.6,334.0 428.8,335.0C431.9,336.0 436.7,335.8 440.0,336.2C443.3,336.7 446.7,336.5 448.8,337.5C450.8,338.5 452.1,340.4 452.5,342.5C452.9,344.6 452.3,347.5 451.2,350.0C450.2,352.5 447.7,354.6 446.2,357.5C444.8,360.4 443.5,364.2 442.5,367.5C441.5,370.8 441.2,375.0 440.0,377.5C438.8,380.0 436.2,382.9 435.0,382.5C433.8,382.1 433.1,377.7 432.5,375.0C431.9,372.3 432.3,368.5 431.2,366.2C430.2,364.0 428.5,362.3 426.2,361.2C424.0,360.2 420.4,359.4 417.5,360.0C414.6,360.6 411.2,365.0 408.8,365.0C406.2,365.0 403.8,362.5 402.5,360.0C401.2,357.5 401.5,353.3 401.2,350.0C401.0,346.7 401.9,343.3 401.2,340.0C400.6,336.7 398.3,333.1 397.5,330.0C396.7,326.9 395.2,323.3 396.2,321.2Z" fill="#77ff88"/>
<path d="M432.0,397.9C432.4,396.7 433.7,394.8 435.3,393.8C436.9,392.9 439.1,392.5 441.8,392.2C444.5,391.9 448.8,391.9 451.5,392.2C454.2,392.5 456.6,392.6 458.0,393.8C459.4,395.0 459.4,397.2 459.7,399.5C460.0,401.8 460.2,405.4 459.7,407.6C459.1,409.8 457.8,411.8 456.4,412.5C455.0,413.2 453.1,412.1 451.5,411.7C449.9,411.3 448.2,410.8 446.7,410.1C445.2,409.4 444.2,408.6 442.6,407.6C441.0,406.7 438.5,405.5 436.9,404.4C435.3,403.3 433.6,402.2 432.8,401.1C432.0,400.0 431.6,399.1 432.0,397.9Z" fill="#77ff88"/>
<path d="M455.1,451.5C455.4,449.9 456.2,447.8 457.2,446.7C458.2,445.6 460.3,444.6 461.3,445.0C462.3,445.4 462.9,447.5 463.3,449.1C463.7,450.7 463.9,453.0 463.7,454.8C463.5,456.6 463.1,458.8 462.1,459.7C461.2,460.6 459.1,461.1 458.0,460.5C456.9,459.9 456.1,457.9 455.6,456.4C455.1,454.9 454.8,453.1 455.1,451.5Z" fill="#77ff88"/>
<path d="M401.1,448.3C401.2,446.1 401.9,443.8 402.8,441.8C403.8,439.8 405.2,437.5 406.8,436.1C408.4,434.8 410.5,434.0 412.5,433.7C414.5,433.4 417.0,433.7 419.0,434.5C421.0,435.3 423.2,436.8 424.7,438.5C426.2,440.2 427.3,442.8 428.0,445.0C428.7,447.2 429.1,449.1 428.8,451.5C428.5,453.9 427.4,457.2 426.3,459.7C425.2,462.1 423.7,464.0 422.3,466.2C420.9,468.4 419.1,470.5 418.2,472.7C417.2,474.9 416.6,476.8 416.6,479.2C416.6,481.6 417.6,484.6 418.2,487.3C418.8,490.0 420.1,493.3 420.5,495.4C420.9,497.5 420.9,498.0 420.6,500.0C420.3,502.0 419.6,505.3 418.5,507.5C417.4,509.7 415.4,510.2 414.0,513.0C412.6,515.8 412.3,521.2 410.0,524.0C407.7,526.8 404.2,529.0 400.0,530.0C395.8,531.0 388.8,531.0 385.0,530.0C381.2,529.0 379.0,526.5 377.5,524.0C376.0,521.5 375.8,518.2 376.2,515.0C376.7,511.8 378.3,507.7 380.0,505.0C381.7,502.3 383.8,500.2 386.2,498.8C388.8,497.3 392.0,497.6 395.0,496.2C398.0,494.9 401.9,492.4 404.4,490.6C406.9,488.8 408.6,487.1 410.1,485.7C411.6,484.3 412.9,484.0 413.3,482.4C413.7,480.8 413.2,478.1 412.5,475.9C411.8,473.7 410.5,471.6 409.3,469.4C408.1,467.2 406.4,465.3 405.2,462.9C404.0,460.5 402.7,457.2 402.0,454.8C401.3,452.4 401.0,450.5 401.1,448.3Z" fill="#77ff88"/>
<path d="M409.3,449.9C409.2,448.0 409.4,446.4 410.1,445.0C410.8,443.6 412.0,442.3 413.3,441.8C414.6,441.3 416.7,441.3 418.2,441.8C419.7,442.3 421.5,443.6 422.3,445.0C423.1,446.4 423.2,448.1 423.1,449.9C423.0,451.7 422.3,454.0 421.5,455.6C420.7,457.2 419.4,458.6 418.2,459.3C417.0,460.0 415.3,460.2 414.1,459.7C412.9,459.2 411.7,458.0 410.9,456.4C410.1,454.8 409.4,451.8 409.3,449.9Z" fill="#22ffdd"/>
<path d="M385.9,517.4C385.7,514.9 385.9,511.7 387.0,509.4C388.1,507.1 390.6,505.3 392.7,503.8C394.8,502.3 397.3,501.3 399.4,500.4C401.5,499.4 403.4,498.5 405.1,498.1C406.8,497.7 408.6,497.3 409.6,498.1C410.6,498.9 410.9,501.0 411.3,502.7C411.7,504.4 412.2,506.6 411.9,508.3C411.6,510.0 410.9,511.3 409.6,512.8C408.3,514.3 405.9,515.9 404.0,517.4C402.1,518.9 400.2,520.4 398.3,521.9C396.4,523.4 394.4,526.0 392.7,526.4C391.0,526.8 389.2,525.7 388.1,524.2C387.0,522.7 386.1,519.9 385.9,517.4Z" fill="#22ffdd"/>
<path d="M394.3,514.0C394.5,512.8 396.0,511.1 397.2,510.0C398.4,508.9 400.0,507.9 401.7,507.2C403.4,506.4 406.2,505.3 407.4,505.5C408.6,505.7 408.9,507.3 409.1,508.3C409.3,509.3 409.4,510.8 408.5,511.7C407.6,512.6 405.5,513.0 404.0,514.0C402.5,515.0 400.7,516.8 399.4,517.4C398.1,518.0 396.9,518.0 396.0,517.4C395.1,516.8 394.1,515.2 394.3,514.0Z" fill="#00ccff"/>
<path d="M322.0,578.0C324.1,577.1 329.1,577.9 332.5,578.8C335.9,579.6 340.0,580.7 342.5,583.0C345.0,585.3 346.9,589.7 347.5,592.5C348.1,595.3 347.3,597.9 346.2,600.0C345.2,602.1 342.9,603.5 341.2,605.0C339.6,606.5 337.6,607.1 336.5,609.0C335.4,610.9 335.4,614.7 334.5,616.5C333.6,618.3 332.4,620.8 331.0,620.0C329.6,619.2 327.4,615.0 326.0,612.0C324.6,609.0 323.6,605.2 322.5,602.0C321.4,598.8 319.9,595.5 319.5,592.5C319.1,589.5 319.6,586.4 320.0,584.0C320.4,581.6 319.9,578.9 322.0,578.0Z" fill="#77ff88"/>
<path d="M210.0,695.0C190.4,691.7 210.8,680.8 212.5,675.0C214.2,669.2 217.1,663.8 220.0,660.0C222.9,656.2 226.2,654.6 230.0,652.5C233.8,650.4 238.8,649.4 242.5,647.5C246.2,645.6 249.2,643.0 252.5,641.2C255.8,639.5 259.2,637.6 262.5,637.0C265.8,636.4 269.2,636.7 272.5,637.5C275.8,638.3 279.6,641.4 282.5,642.0C285.4,642.6 287.1,642.2 290.0,641.2C292.9,640.3 296.7,637.9 300.0,636.2C303.3,634.6 306.7,632.9 310.0,631.2C313.3,629.6 316.7,627.7 320.0,626.2C323.3,624.8 328.3,611.0 330.0,622.5C331.7,634.0 350.0,682.9 330.0,695.0C310.0,707.1 229.6,698.3 210.0,695.0Z" fill="#77ff88"/>
<path d="M244.5,695.0C234.5,692.7 243.2,684.8 245.0,681.2C246.8,677.7 250.8,675.4 255.0,673.8C259.2,672.1 265.4,671.9 270.0,671.2C274.6,670.6 278.8,670.8 282.5,670.0C286.2,669.2 289.2,667.5 292.5,666.2C295.8,665.0 300.4,657.7 302.5,662.5C304.6,667.3 314.7,689.6 305.0,695.0C295.3,700.4 254.5,697.3 244.5,695.0Z" fill="#22ffdd"/>
<path d="M30.0,100.0L67.5,100.0L67.4,107.2L67.0,112.4L66.5,117.1L65.7,121.4L64.7,125.4L63.4,129.0L62.0,132.4L60.3,135.5L58.4,138.3L56.3,140.8L54.0,143.1L51.5,145.0L48.8,146.7L45.9,148.0L42.7,149.1L39.2,149.9L35.3,150.3L30.0,150.5Z" fill="#bbff44"/>
<path d="M30.0,100.0L64.0,100.0L63.9,106.5L63.6,111.3L63.1,115.6L62.3,119.5L61.4,123.1L60.3,126.4L59.0,129.5L57.5,132.3L55.8,134.9L53.9,137.2L51.8,139.2L49.5,141.0L47.1,142.5L44.4,143.8L41.5,144.7L38.4,145.4L34.8,145.9L30.0,146.0Z" fill="#77ff88"/>
<path d="M30.0,100.0L61.0,100.0L60.9,106.0L60.6,110.4L60.2,114.2L59.5,117.8L58.7,121.1L57.6,124.1L56.4,126.9L55.0,129.5L53.5,131.8L51.8,133.9L49.9,135.8L47.8,137.4L45.6,138.8L43.1,140.0L40.5,140.9L37.6,141.5L34.4,141.9L30.0,142.0Z" fill="#22ffdd"/>
<path d="M30.0,100.0L58.0,100.0L57.9,105.5L57.7,109.5L57.2,113.1L56.6,116.3L55.9,119.3L55.0,122.1L53.9,124.7L52.6,127.0L51.2,129.2L49.7,131.1L47.9,132.8L46.1,134.3L44.1,135.6L41.9,136.6L39.5,137.4L36.9,138.0L34.0,138.4L30.0,138.5Z" fill="#00ccff"/>
<path d="M30.0,100.0L54.8,100.0L54.7,105.0L54.5,108.6L54.1,111.9L53.6,114.8L52.9,117.6L52.1,120.1L51.1,122.4L50.0,124.6L48.8,126.5L47.4,128.3L45.9,129.8L44.2,131.2L42.5,132.4L40.5,133.3L38.4,134.0L36.1,134.6L33.5,134.9L30.0,135.0Z" fill="#0088ff"/>
<path d="M30.0,100.0L51.5,100.0L51.4,104.5L51.2,107.9L50.9,110.9L50.5,113.6L49.9,116.1L49.2,118.4L48.3,120.5L47.4,122.5L46.3,124.3L45.1,125.9L43.8,127.3L42.3,128.5L40.8,129.6L39.1,130.4L37.3,131.1L35.3,131.6L33.1,131.9L30.0,132.0Z" fill="#0033ff"/>
<path d="M30.0,100.0L47.0,100.0L46.9,104.0L46.8,107.0L46.5,109.7L46.2,112.1L45.7,114.3L45.2,116.4L44.5,118.3L43.7,120.0L42.9,121.6L41.9,123.0L40.9,124.3L39.8,125.4L38.5,126.3L37.2,127.1L35.8,127.7L34.2,128.2L32.4,128.4L30.0,128.5Z" fill="#0000ee"/>
<path d="M38.5,115.0C39.5,114.3 42.0,114.3 43.0,115.0C44.0,115.7 44.5,117.7 44.5,119.0C44.5,120.3 44.0,122.2 43.0,123.0C42.0,123.8 39.5,124.2 38.5,123.5C37.5,122.8 37.0,120.4 37.0,119.0C37.0,117.6 37.5,115.7 38.5,115.0Z" fill="#2200cc"/>
<path d="M30.0,340.0C31.0,329.0 32.1,341.5 36.2,343.8C40.4,346.0 47.7,350.6 55.0,353.8C62.3,356.9 73.4,360.0 80.0,362.5C86.6,365.0 89.8,367.2 94.7,369.0C99.6,370.8 105.2,370.5 109.4,373.0C113.6,375.5 116.6,379.9 119.6,383.8C122.6,387.7 124.4,392.6 127.6,396.2C130.8,399.8 135.9,401.5 138.9,405.3C141.9,409.1 143.2,414.9 145.7,418.9C148.2,422.9 150.5,427.4 153.7,429.3C156.9,431.2 161.8,429.4 165.0,430.2C168.2,431.0 170.8,432.6 173.2,434.2C175.6,435.8 178.1,437.3 179.7,439.9C181.3,442.5 182.5,446.2 182.9,449.7C183.3,453.2 182.6,456.9 182.1,461.0C181.6,465.1 180.9,468.0 179.7,474.0C178.5,480.0 177.2,488.5 175.0,497.0C172.8,505.5 168.2,516.2 166.5,525.0C164.8,533.8 165.9,543.8 164.5,550.0C163.1,556.2 160.4,558.3 158.0,562.5C155.6,566.7 151.8,570.8 150.0,575.0C148.2,579.2 150.6,583.3 147.5,587.5C144.4,591.7 134.8,595.8 131.2,600.0C127.7,604.2 128.1,608.3 126.0,612.5C123.9,616.7 120.2,618.8 118.8,625.0C117.2,631.2 117.7,641.7 117.0,650.0C116.3,658.3 115.2,667.5 114.5,675.0C113.8,682.5 122.1,690.8 113.0,695.0C103.9,699.2 68.8,722.5 60.0,700.0C51.2,677.5 58.3,603.3 60.0,560.0C61.7,516.7 75.0,465.0 70.0,440.0C65.0,415.0 36.7,426.7 30.0,410.0C23.3,393.3 29.0,351.0 30.0,340.0Z" fill="#bbff44"/>
<path d="M30.0,343.0C31.0,332.5 32.1,344.5 36.2,346.8C40.4,349.0 47.7,353.2 55.0,356.4C62.3,359.6 73.4,363.1 80.0,365.7C86.6,368.4 89.9,370.3 94.5,372.1C99.1,373.8 104.0,373.9 107.7,376.3C111.4,378.7 114.1,382.7 116.8,386.3C119.5,390.0 121.0,394.6 124.0,398.0C126.9,401.4 131.4,403.2 134.3,406.7C137.3,410.3 139.1,415.5 141.6,419.3C144.0,423.1 146.1,427.3 149.2,429.4C152.2,431.5 156.7,430.8 159.8,432.0C162.9,433.1 165.4,434.6 167.8,436.3C170.2,438.0 172.5,439.6 174.2,442.1C175.8,444.6 177.0,447.8 177.5,451.2C178.1,454.5 177.8,458.3 177.4,462.3C177.0,466.3 176.3,469.5 175.1,475.3C174.0,481.1 172.6,488.7 170.6,497.0C168.6,505.3 164.7,516.2 163.2,525.0C161.7,533.8 162.7,543.8 161.4,550.0C160.1,556.2 158.2,558.3 155.6,562.5C153.0,566.7 148.1,570.8 146.0,575.0C143.9,579.2 146.1,583.3 143.0,587.5C139.9,591.7 130.9,595.8 127.5,600.0C124.1,604.2 124.4,608.3 122.6,612.5C120.8,616.7 117.8,618.8 116.5,625.0C115.2,631.2 115.5,641.7 114.8,650.0C114.2,658.3 113.3,667.5 112.6,675.0C111.9,682.5 119.7,690.8 110.9,695.0C102.1,699.2 68.5,722.5 60.0,700.0C51.5,677.5 58.3,603.3 60.0,560.0C61.7,516.7 75.0,465.0 70.0,440.0C65.0,415.0 36.7,426.2 30.0,410.0C23.3,393.8 29.0,353.5 30.0,343.0Z" fill="#77ff88"/>
<path d="M30.0,346.0C31.0,336.0 32.1,347.6 36.2,349.8C40.4,351.9 47.7,355.8 55.0,359.1C62.3,362.3 73.5,366.3 80.0,369.0C86.5,371.7 89.9,373.4 94.3,375.1C98.6,376.9 102.8,377.3 106.0,379.6C109.3,381.9 111.6,385.5 114.0,388.9C116.3,392.3 117.7,396.6 120.3,399.8C122.9,403.1 126.9,404.9 129.7,408.2C132.6,411.5 134.9,416.2 137.4,419.7C139.9,423.3 141.8,427.2 144.6,429.6C147.5,431.9 151.7,432.3 154.6,433.7C157.5,435.2 160.0,436.6 162.3,438.3C164.7,440.1 167.0,442.0 168.6,444.3C170.3,446.7 171.5,449.4 172.2,452.6C172.9,455.8 172.9,459.6 172.7,463.6C172.4,467.6 171.7,471.1 170.6,476.6C169.5,482.2 168.0,488.9 166.2,497.0C164.4,505.1 161.2,516.2 159.9,525.0C158.6,533.8 159.4,543.8 158.3,550.0C157.2,556.2 155.9,558.3 153.2,562.5C150.5,566.7 144.4,570.8 142.0,575.0C139.6,579.2 141.5,583.3 138.5,587.5C135.5,591.7 127.0,595.8 123.8,600.0C120.5,604.2 120.8,608.3 119.2,612.5C117.6,616.7 115.3,618.8 114.2,625.0C113.2,631.2 113.3,641.7 112.7,650.0C112.1,658.3 111.4,667.5 110.7,675.0C110.0,682.5 117.2,690.8 108.8,695.0C100.3,699.2 68.1,722.5 60.0,700.0C51.9,677.5 58.3,603.3 60.0,560.0C61.7,516.7 75.0,465.0 70.0,440.0C65.0,415.0 36.7,425.7 30.0,410.0C23.3,394.3 29.0,356.0 30.0,346.0Z" fill="#22ffdd"/>
<path d="M30.0,349.0C31.0,339.5 32.1,350.6 36.2,352.8C40.4,354.9 47.7,358.5 55.0,361.7C62.3,364.9 73.5,369.5 80.0,372.2C86.5,375.0 90.0,376.4 94.0,378.2C98.1,380.0 101.5,380.7 104.4,382.9C107.2,385.1 109.1,388.3 111.1,391.4C113.2,394.5 114.3,398.6 116.7,401.7C119.0,404.7 122.4,406.5 125.2,409.6C127.9,412.7 130.8,416.8 133.3,420.2C135.8,423.5 137.4,427.2 140.1,429.7C142.8,432.3 146.6,433.7 149.4,435.5C152.2,437.3 154.6,438.5 156.9,440.4C159.2,442.2 161.4,444.3 163.1,446.6C164.7,448.8 166.0,451.0 166.8,454.1C167.6,457.1 168.1,461.0 167.9,465.0C167.8,468.9 167.0,472.6 166.0,478.0C165.0,483.3 163.4,489.2 161.8,497.0C160.2,504.8 157.7,516.2 156.6,525.0C155.5,533.8 156.2,543.8 155.2,550.0C154.2,556.2 153.7,558.3 150.8,562.5C147.9,566.7 140.8,570.8 138.0,575.0C135.2,579.2 137.0,583.3 134.0,587.5C131.0,591.7 123.0,595.8 120.0,600.0C117.0,604.2 117.1,608.3 115.8,612.5C114.5,616.7 112.9,618.8 112.0,625.0C111.1,631.2 111.1,641.7 110.5,650.0C110.0,658.3 109.4,667.5 108.8,675.0C108.2,682.5 114.8,690.8 106.7,695.0C98.6,699.2 67.8,722.5 60.0,700.0C52.2,677.5 58.3,603.3 60.0,560.0C61.7,516.7 75.0,465.0 70.0,440.0C65.0,415.0 36.7,425.2 30.0,410.0C23.3,394.8 29.0,358.5 30.0,349.0Z" fill="#00ccff"/>
<path d="M30.0,352.0C31.0,343.0 32.1,353.7 36.2,355.8C40.4,357.8 47.7,361.1 55.0,364.4C62.3,367.6 73.5,372.6 80.0,375.5C86.5,378.3 90.0,379.4 93.8,381.2C97.6,383.0 100.3,384.1 102.7,386.2C105.1,388.3 106.6,391.1 108.3,394.0C110.0,396.8 111.0,400.6 113.0,403.5C115.1,406.3 117.9,408.2 120.6,411.1C123.3,413.9 126.6,417.4 129.1,420.6C131.6,423.7 133.0,427.1 135.5,429.9C138.0,432.6 141.5,435.1 144.2,437.2C146.8,439.3 149.2,440.5 151.4,442.4C153.7,444.4 155.9,446.6 157.5,448.8C159.2,451.0 160.5,452.6 161.5,455.5C162.4,458.5 163.2,462.3 163.2,466.3C163.2,470.2 162.4,474.2 161.5,479.3C160.5,484.4 158.8,489.4 157.4,497.0C156.0,504.6 154.2,516.2 153.3,525.0C152.4,533.8 152.9,543.8 152.1,550.0C151.3,556.2 151.4,558.3 148.4,562.5C145.4,566.7 137.2,570.8 134.0,575.0C130.8,579.2 132.5,583.3 129.5,587.5C126.5,591.7 119.1,595.8 116.2,600.0C113.4,604.2 113.5,608.3 112.4,612.5C111.3,616.7 110.4,618.8 109.8,625.0C109.1,631.2 108.9,641.7 108.4,650.0C107.9,658.3 107.5,667.5 106.9,675.0C106.3,682.5 112.4,690.8 104.6,695.0C96.8,699.2 67.4,722.5 60.0,700.0C52.6,677.5 58.3,603.3 60.0,560.0C61.7,516.7 75.0,465.0 70.0,440.0C65.0,415.0 36.7,424.7 30.0,410.0C23.3,395.3 29.0,361.0 30.0,352.0Z" fill="#0088ff"/>
<path d="M30.0,355.0C31.0,349.1 32.1,356.8 36.2,358.8C40.4,360.8 47.7,363.7 55.0,367.0C62.3,370.3 73.6,375.8 80.0,378.7C86.4,381.6 90.1,382.5 93.6,384.3C97.1,386.1 99.0,387.5 101.0,389.5C103.0,391.5 104.1,393.9 105.5,396.5C106.9,399.1 107.7,402.6 109.4,405.3C111.2,408.0 113.4,409.9 116.0,412.5C118.6,415.1 122.5,418.1 125.0,421.0C127.5,423.9 128.7,427.0 131.0,430.0C133.3,433.0 136.5,436.6 139.0,439.0C141.5,441.4 143.8,442.5 146.0,444.5C148.2,446.5 150.3,448.9 152.0,451.0C153.7,453.1 155.0,454.2 156.1,457.0C157.2,459.8 158.4,463.7 158.5,467.6C158.6,471.5 157.8,475.7 156.9,480.6C156.0,485.5 154.2,489.6 153.0,497.0C151.8,504.4 150.7,516.2 150.0,525.0C149.3,533.8 149.7,543.8 149.0,550.0C148.3,556.2 149.2,558.3 146.0,562.5C142.8,566.7 133.5,570.8 130.0,575.0C126.5,579.2 127.9,583.3 125.0,587.5C122.1,591.7 115.2,595.8 112.5,600.0C109.8,604.2 109.8,608.3 109.0,612.5C108.2,616.7 108.0,618.8 107.5,625.0C107.0,631.2 106.7,641.7 106.2,650.0C105.8,658.3 105.6,667.5 105.0,675.0C104.4,682.5 105.0,691.7 102.5,695.0C100.0,698.3 92.1,697.2 90.0,695.0C87.9,692.8 89.9,685.5 89.8,682.0C89.7,678.5 89.6,676.5 89.3,673.8C89.0,671.1 88.8,668.4 88.2,665.7C87.6,663.0 86.8,660.1 85.8,657.6C84.8,655.1 83.5,652.6 82.5,651.0C81.5,649.4 80.4,666.5 80.0,648.0C79.6,629.5 77.6,559.0 80.0,540.0C82.4,521.0 91.6,534.7 94.3,534.0C97.0,533.3 94.6,535.2 96.3,535.7C98.0,536.2 101.7,537.3 104.4,537.3C107.1,537.3 110.1,536.8 112.5,535.7C114.9,534.6 117.2,532.7 119.0,530.8C120.8,528.9 122.3,526.5 123.1,524.3C123.9,522.1 123.9,520.5 123.9,517.8C123.9,515.1 123.1,511.8 123.1,508.0C123.1,504.2 124.3,499.1 123.9,495.0C123.5,490.9 123.1,486.9 120.7,483.7C118.3,480.4 112.6,478.5 109.3,475.5C106.0,472.5 103.0,469.3 101.1,465.8C99.2,462.3 98.9,457.6 97.9,454.4C97.0,451.1 96.0,448.8 95.4,446.3C94.8,443.8 97.3,443.3 94.5,439.5C91.7,435.7 84.1,428.5 78.8,423.5C73.5,418.5 69.5,414.1 62.5,409.6C55.5,405.1 41.9,399.0 36.5,396.4C31.1,393.8 31.1,400.9 30.0,394.0C28.9,387.1 29.0,360.9 30.0,355.0Z" fill="#0033ff"/>
<path d="M80.0,571.0L97.2,571.0L96.0,584.4L91.5,598.2L88.2,600.7L80.0,602.0Z" fill="#0088ff"/>
<path d="M70.0,660.8C72.1,655.1 80.2,660.0 82.5,660.8C84.8,661.6 83.4,663.5 84.1,665.7C84.8,667.9 86.0,671.1 86.6,673.8C87.1,676.5 87.2,678.5 87.4,682.0C87.6,685.5 90.6,692.8 87.7,695.0C84.8,697.2 73.0,700.7 70.0,695.0C67.0,689.3 67.9,666.5 70.0,660.8Z" fill="#00ccff"/>
<path d="M70.0,673.8C71.1,670.3 74.8,673.3 76.8,673.8C78.8,674.3 80.4,675.4 81.7,677.0C83.0,678.6 84.0,680.6 84.5,683.6C85.0,686.6 87.4,693.1 85.0,695.0C82.6,696.9 72.5,698.5 70.0,695.0C67.5,691.5 68.9,677.3 70.0,673.8Z" fill="#22ffdd"/>
<path d="M70.0,681.0C71.1,678.7 75.0,680.4 76.8,681.0C78.6,681.6 80.0,682.1 80.9,684.4C81.9,686.7 84.3,693.2 82.5,695.0C80.7,696.8 72.1,697.3 70.0,695.0C67.9,692.7 68.9,683.3 70.0,681.0Z" fill="#77ff88"/>
<path d="M30.0,393.0L36.5,395.4L62.5,408.6L78.8,422.5L94.5,438.5L97.0,447.0L80.0,470.0L30.0,440.0Z" fill="#0088ff"/>
<path d="M28.4,395.8L34.9,398.2L60.9,411.4L77.2,425.3L92.9,441.3L95.4,449.8L80.0,470.0L30.0,440.0Z" fill="#00ccff"/>
<path d="M27.0,398.2L33.5,400.6L59.5,413.8L75.8,427.7L91.5,443.7L94.0,452.2L80.0,470.0L30.0,440.0Z" fill="#22ffdd"/>
<path d="M25.8,400.4L32.2,402.8L58.2,416.0L74.5,429.9L90.2,445.9L92.8,454.4L80.0,470.0L30.0,440.0Z" fill="#77ff88"/>
<path d="M30.0,391.0C31.1,396.2 31.1,390.5 36.5,393.5C41.9,396.5 55.5,404.2 62.5,409.0C69.5,413.8 73.0,417.5 78.8,422.5C84.5,427.5 93.3,434.4 97.0,439.0C100.7,443.6 99.8,446.5 101.0,450.0C102.2,453.5 102.8,456.7 104.0,460.0C105.2,463.3 106.0,467.0 108.0,470.0C110.0,473.0 114.1,476.2 116.0,478.0C117.9,479.8 113.1,480.5 119.2,481.0C125.3,481.5 146.8,482.8 152.8,481.0C158.7,479.2 154.7,473.3 154.8,469.9C154.8,466.6 154.5,463.5 153.1,461.0C151.6,458.5 148.5,456.8 146.0,455.0C143.5,453.2 140.5,452.1 138.0,450.2C135.5,448.4 133.4,446.5 131.0,444.0C128.6,441.5 125.6,438.0 123.6,435.0C121.6,432.0 120.9,428.8 119.0,426.0C117.1,423.2 114.2,420.4 112.2,417.9C110.1,415.5 108.2,413.4 106.7,411.1C105.2,408.9 104.4,406.4 103.0,404.2C101.6,402.1 100.5,400.0 98.5,398.0C96.5,396.0 94.4,394.1 91.3,392.4C88.2,390.7 86.0,390.6 80.0,387.6C74.0,384.6 62.3,377.7 55.0,374.1C47.7,370.6 40.4,368.2 36.2,366.2C32.1,364.3 31.0,358.4 30.0,362.5C29.0,366.6 28.9,385.8 30.0,391.0Z" fill="#0000ee"/>
<path d="M126.5,508.0C126.5,511.7 127.3,517.2 127.0,521.0C126.7,524.8 126.0,527.8 124.5,531.0C123.0,534.2 120.1,537.5 118.0,540.0C115.9,542.5 113.5,543.3 112.0,546.0C110.5,548.7 109.8,552.3 109.0,556.0C108.2,559.7 108.3,564.3 107.0,568.0C105.7,571.7 102.8,574.0 101.0,578.0C99.2,582.0 98.2,587.3 96.0,592.0C93.8,596.7 89.5,598.0 88.0,606.0C86.5,614.0 86.7,631.0 87.0,640.0C87.3,649.0 89.3,654.2 90.0,660.0C90.7,665.8 91.0,669.2 91.3,675.0C91.6,680.8 90.5,691.7 91.8,695.0C93.1,698.3 97.5,698.3 99.2,695.0C101.0,691.7 101.8,682.5 102.5,675.0C103.2,667.5 103.3,658.3 103.8,650.0C104.2,641.7 104.6,631.2 105.0,625.0C105.4,618.8 105.6,616.7 106.2,612.5C106.9,608.3 106.9,604.2 108.8,600.0C110.6,595.8 114.7,591.7 117.5,587.5C120.3,583.3 121.1,579.2 125.5,575.0C129.9,570.8 140.2,566.7 143.8,562.5C147.3,558.3 146.3,556.2 147.0,550.0C147.7,543.8 147.6,533.5 148.0,525.0C148.4,516.5 152.9,503.3 149.4,499.0C145.9,494.7 131.1,497.5 127.2,499.0C123.4,500.5 126.5,504.3 126.5,508.0Z" fill="#0000ee"/>
<path d="M30.0,370.0C31.0,368.0 32.1,371.9 36.2,373.8C40.4,375.6 47.7,377.5 55.0,381.2C62.3,385.0 74.7,393.5 80.0,396.5C85.3,399.5 84.7,398.0 86.8,399.0C88.9,400.0 90.8,401.1 92.5,402.5C94.2,403.9 95.5,405.8 97.0,407.6C98.5,409.4 100.1,411.3 101.5,413.2C102.9,415.1 104.0,416.4 105.5,418.9C107.0,421.4 108.8,425.1 110.6,428.0C112.4,430.9 114.4,434.0 116.2,436.0C118.1,438.0 120.2,437.8 121.5,440.0C122.8,442.2 123.0,446.6 123.9,449.5C124.9,452.4 125.6,456.1 127.2,457.6C128.8,459.1 131.3,458.2 133.7,458.5C136.1,458.8 139.1,458.6 141.8,459.3C144.5,460.0 148.1,460.9 149.9,462.5C151.7,464.1 152.4,467.0 152.4,469.0C152.4,471.0 151.4,473.3 149.9,474.7C148.4,476.1 145.8,476.6 143.4,477.2C141.0,477.8 138.0,478.3 135.3,478.0C132.6,477.7 129.6,475.6 127.2,475.5C124.8,475.4 122.7,476.9 120.7,477.2C118.7,477.5 116.4,478.3 115.0,477.2C113.6,476.1 112.8,473.1 112.5,470.7C112.2,468.2 113.7,465.8 113.3,462.5C112.9,459.2 111.6,454.9 110.1,451.1C108.6,447.3 106.9,442.4 104.4,439.8C101.9,437.2 99.3,439.2 95.0,435.8C90.7,432.4 84.2,424.4 78.8,419.5C73.4,414.6 69.5,411.6 62.5,406.5C55.5,401.4 41.9,392.1 36.5,388.7C31.1,385.3 31.1,389.1 30.0,386.0C28.9,382.9 29.0,372.0 30.0,370.0Z" fill="#2200cc"/>
<path d="M136.0,503.0C138.4,503.0 143.2,504.5 145.0,506.4C146.8,508.3 146.5,511.5 146.7,514.5C146.8,517.5 146.2,520.8 145.9,524.3C145.6,527.8 145.2,531.9 145.0,535.7C144.8,539.5 145.2,543.6 145.0,547.0C144.8,550.4 144.6,553.4 144.0,556.0C143.4,558.6 144.7,559.8 141.5,562.5C138.3,565.2 129.6,569.1 125.0,572.0C120.4,574.9 116.8,577.4 114.0,580.0C111.2,582.6 109.5,584.2 108.0,587.5C106.5,590.8 105.8,595.8 105.0,600.0C104.2,604.2 103.9,608.3 103.5,612.5C103.1,616.7 102.9,618.8 102.5,625.0C102.1,631.2 101.7,641.7 101.2,650.0C100.8,658.3 100.9,667.5 100.0,675.0C99.1,682.5 97.0,691.7 96.0,695.0C95.0,698.3 94.3,699.2 93.8,695.0C93.2,690.8 92.9,677.5 92.5,670.0C92.1,662.5 91.7,656.7 91.2,650.0C90.8,643.3 89.8,636.2 90.0,630.0C90.2,623.8 91.5,617.5 92.5,612.5C93.5,607.5 94.6,604.6 96.2,600.0C97.9,595.4 100.2,589.2 102.5,585.0C104.8,580.8 108.2,578.2 110.0,575.0C111.8,571.8 112.2,569.2 113.0,566.0C113.8,562.8 114.7,559.2 115.0,556.0C115.3,552.8 114.7,549.6 115.0,547.0C115.3,544.4 115.4,543.0 116.6,540.6C117.8,538.2 120.5,535.1 122.3,532.4C124.1,529.7 126.1,527.3 127.2,524.3C128.3,521.3 128.3,517.5 128.8,514.5C129.3,511.5 129.2,508.3 130.4,506.4C131.6,504.5 133.6,503.0 136.0,503.0Z" fill="#2200cc"/>
<path d="M50.8,391.1C51.2,390.0 52.8,389.1 54.4,389.0C55.9,388.8 58.5,389.4 60.1,390.3C61.7,391.2 63.7,393.1 64.2,394.4C64.6,395.6 63.7,397.1 62.5,397.6C61.3,398.1 58.6,398.0 56.8,397.6C55.1,397.2 53.0,396.6 52.0,395.5C50.9,394.4 50.4,392.2 50.8,391.1Z" fill="#4400aa"/>
<path d="M115.5,552.0C116.5,549.3 118.8,547.7 120.0,549.0C121.2,550.3 122.3,556.2 122.5,560.0C122.7,563.8 122.1,569.3 121.0,572.0C119.9,574.7 117.2,577.2 116.0,576.0C114.8,574.8 114.1,569.0 114.0,565.0C113.9,561.0 114.5,554.7 115.5,552.0Z" fill="#4400aa"/>
<path d="M92.0,640.0C92.8,637.2 94.8,634.2 96.0,635.0C97.2,635.8 98.6,641.3 99.0,645.0C99.4,648.7 99.2,654.3 98.5,657.0C97.8,659.7 96.2,661.8 95.0,661.0C93.8,660.2 92.0,655.5 91.5,652.0C91.0,648.5 91.2,642.8 92.0,640.0Z" fill="#4400aa"/>
<path d="M93.0,477.2C94.3,471.2 98.7,475.2 101.1,475.5C103.5,475.8 105.3,476.9 107.6,478.8C109.9,480.7 113.1,483.6 115.0,486.9C116.9,490.1 118.2,494.2 119.0,498.3C119.8,502.4 119.5,507.5 119.8,511.3C120.1,515.1 121.0,518.3 120.7,521.0C120.4,523.7 119.6,526.8 118.2,527.6C116.8,528.4 114.5,526.8 112.5,526.0C110.5,525.2 108.2,524.1 106.0,522.7C103.8,521.3 101.7,519.7 99.5,517.8C97.3,515.9 94.1,518.1 93.0,511.3C91.9,504.5 91.7,483.2 93.0,477.2Z" fill="#00ccff"/>
<path d="M93.0,478.8C94.6,474.2 100.1,477.7 102.8,478.8C105.5,479.9 107.7,482.6 109.3,485.3C110.9,488.0 112.1,492.0 112.5,495.0C112.9,498.0 112.5,501.3 111.7,503.2C110.9,505.1 109.4,505.6 107.6,506.4C105.8,507.2 103.5,508.0 101.1,508.0C98.7,508.0 94.3,511.3 93.0,506.4C91.7,501.5 91.4,483.4 93.0,478.8Z" fill="#22ffdd"/>
<path d="M99.2,483.7C99.7,482.1 101.4,483.4 102.0,484.5C102.6,485.6 102.9,488.4 102.8,490.2C102.7,491.9 102.1,494.3 101.5,495.0C100.9,495.7 99.6,496.1 99.2,494.2C98.8,492.3 98.7,485.3 99.2,483.7Z" fill="#77ff88"/>
</g>
<path d="M96.7,108.5V690.5M157.3,108.5V690.5M218.0,108.5V690.5M278.7,108.5V690.5M339.3,108.5V690.5M400.0,108.5V690.5M460.7,108.5V690.5M521.3,108.5V690.5M36.0,181.2H582.0M36.0,254.0H582.0M36.0,326.8H582.0M36.0,399.5H582.0M36.0,472.2H582.0M36.0,545.0H582.0M36.0,617.8H582.0" stroke="#a8a8a8" stroke-width="1" stroke-dasharray="1.6 4.9" fill="none"/>
<path d="M123.0,107.5L124.5,117.4L127.5,127.4L125.0,134.9L122.5,139.9L127.5,146.1L131.2,149.8L132.0,158.6L133.7,163.5L138.7,168.5L143.7,171.0L149.9,168.5L152.4,171.0L154.9,167.3L162.4,163.5L168.6,158.6L173.6,152.3L178.6,148.6L177.3,146.1L169.8,144.8L167.3,137.4L163.6,127.4L159.9,121.2L166.1,123.7L173.6,124.9L181.1,127.4L184.8,123.7L192.3,121.2L199.7,117.4L206.0,115.0L210.9,110.0L212.7,107.5" fill="none" stroke="#000" stroke-width="1.6" stroke-linejoin="round" stroke-linecap="round"/>
<path d="M130.0,148.8L126.2,151.2L120.5,156.2L118.8,152.5L116.2,156.2L112.5,157.0L98.8,157.0L98.8,166.2L106.2,167.0L106.2,172.5L96.2,173.8L97.0,182.5L103.8,196.2L103.2,205.0L101.2,222.5L98.8,236.2L97.0,244.5" fill="none" stroke="#000" stroke-width="1.6" stroke-linejoin="round" stroke-linecap="round"/>
<path d="M35.0,183.8L41.2,187.5L45.0,195.0L51.2,200.0L55.0,205.0L57.5,212.5L62.5,216.2L70.0,215.5L76.2,213.8L82.5,215.5L90.0,217.5L95.5,221.2L92.5,230.0L88.8,237.0L97.0,244.5" fill="none" stroke="#000" stroke-width="1.6" stroke-linejoin="round" stroke-linecap="round"/>
<path d="M97.0,244.5L91.2,242.5L86.2,244.5L78.8,246.2L71.2,250.0L65.0,254.5L61.2,258.8L60.0,266.2L57.5,272.5L57.0,278.8L51.2,286.2L49.5,292.5L51.2,300.0" fill="none" stroke="#000" stroke-width="1.6" stroke-linejoin="round" stroke-linecap="round"/>
<path d="M51.2,286.2L75.0,291.2L97.5,296.2L101.2,300.0L140.0,323.8" fill="none" stroke="#000" stroke-width="1.6" stroke-linejoin="round" stroke-linecap="round"/>
<path d="M178.6,148.6L182.3,153.6L186.0,162.3L187.8,172.3L189.8,182.2L192.3,187.2L188.5,192.2L193.5,198.4L194.8,202.2" fill="none" stroke="#000" stroke-width="1.6" stroke-linejoin="round" stroke-linecap="round"/>
<path d="M194.8,199.7L199.7,192.2L204.7,189.7L208.5,193.4L213.4,189.7L215.9,182.2L217.7,177.8L231.4,177.8" fill="none" stroke="#000" stroke-width="1.6" stroke-linejoin="round" stroke-linecap="round"/>
<path d="M217.2,107.5L218.4,115.0L219.7,124.9L218.4,137.4L220.9,149.8L225.9,158.6L231.4,164.0L231.4,177.8L233.4,184.7L237.1,192.2L242.1,198.4" fill="none" stroke="#000" stroke-width="1.6" stroke-linejoin="round" stroke-linecap="round"/>
<path d="M231.4,164.0L237.1,159.8L249.6,156.1L259.6,152.8" fill="none" stroke="#000" stroke-width="1.6" stroke-linejoin="round" stroke-linecap="round"/>
<path d="M244.6,107.5L242.1,118.7L244.6,127.4L249.6,132.4L252.1,139.9L255.8,149.8L259.6,152.8" fill="none" stroke="#000" stroke-width="1.6" stroke-linejoin="round" stroke-linecap="round"/>
<path d="M260.0,152.5L266.2,153.8L267.5,147.5L273.8,146.2L280.0,145.0L281.2,146.2L283.8,148.8L292.5,148.8L302.5,146.2L306.2,141.2L312.5,132.5L316.2,126.2L319.5,121.2L320.5,118.0" fill="none" stroke="#000" stroke-width="1.6" stroke-linejoin="round" stroke-linecap="round"/>
<path d="M285.0,107.5L286.2,115.0L290.0,123.8L290.5,132.5L287.5,141.2L283.8,147.5" fill="none" stroke="#000" stroke-width="1.6" stroke-linejoin="round" stroke-linecap="round"/>
<path d="M281.2,147.5L282.5,153.8L290.0,157.5L296.2,163.8L301.2,171.2L305.0,182.5L310.0,192.5L312.5,197.5L317.5,198.8" fill="none" stroke="#000" stroke-width="1.6" stroke-linejoin="round" stroke-linecap="round"/>
<path d="M242.5,198.8L250.0,205.0L256.2,210.0L262.5,212.5L265.0,211.2L260.0,220.0L252.5,240.0L245.0,260.0L238.8,275.0L236.5,279.0L239.8,287.0L242.2,291.8L245.0,300.0" fill="none" stroke="#000" stroke-width="1.6" stroke-linejoin="round" stroke-linecap="round"/>
<path d="M310.0,107.5L313.8,112.5L317.5,115.0L322.5,118.8L325.0,125.0L326.2,132.5L328.8,142.5L332.5,151.2L336.2,153.8L340.0,156.2L340.0,165.0L337.5,170.0L335.0,175.0" fill="none" stroke="#000" stroke-width="1.6" stroke-linejoin="round" stroke-linecap="round"/>
<path d="M310.0,108.8L317.5,113.8L322.5,120.0L326.2,132.5L328.8,145.0L332.5,151.2L340.0,156.2L340.0,165.0L336.2,172.5L335.0,177.5L338.0,180.5" fill="none" stroke="#000" stroke-width="1.6" stroke-linejoin="round" stroke-linecap="round"/>
<path d="M339.8,154.8L340.6,162.9L338.2,170.2L335.7,174.3L339.8,176.7L343.8,178.3L348.7,180.7L353.5,183.2L357.6,185.6L358.4,190.4L356.8,195.3L353.5,200.2L349.5,204.2L345.4,206.6L340.6,205.8L336.6,203.4L332.5,204.2L329.3,208.2L325.2,209.9L321.2,208.2" fill="none" stroke="#000" stroke-width="1.8" stroke-linejoin="round" stroke-linecap="round"/>
<path d="M339.0,171.0L334.9,178.3L330.9,184.8L326.4,190.4L322.3,196.9L318.3,202.6" fill="none" stroke="#000" stroke-width="3.8" stroke-linejoin="round" stroke-linecap="round"/>
<path d="M340.9,174.3L336.7,180.7L332.8,187.2L328.6,193.4L324.7,199.3L321.2,204.2" fill="none" stroke="#000" stroke-width="3.8" stroke-linejoin="round" stroke-linecap="round"/>
<path d="M342.5,176.7L338.5,183.2L334.4,189.6L330.4,196.1L326.4,201.8L323.1,207.0" fill="none" stroke="#000" stroke-width="3.8" stroke-linejoin="round" stroke-linecap="round"/>
<path d="M343.8,182.4L340.3,188.8L336.7,195.3L333.2,201.8L330.9,206.3" fill="none" stroke="#000" stroke-width="3.4" stroke-linejoin="round" stroke-linecap="round"/>
<path d="M333.3,175.9L329.3,181.6L324.7,187.5L321.2,193.4L318.8,197.7" fill="none" stroke="#000" stroke-width="2.8" stroke-linejoin="round" stroke-linecap="round"/>
<path d="M321.2,206.6L326.0,205.8L329.3,209.1L325.2,210.7L322.8,209.1L321.2,206.6" fill="none" stroke="#000" stroke-width="1.8" stroke-linejoin="round" stroke-linecap="round"/>
<path d="M334.1,198.5L339.0,196.9L339.8,201.8L335.7,204.2L334.1,198.5" fill="none" stroke="#000" stroke-width="1.8" stroke-linejoin="round" stroke-linecap="round"/>
<path d="M342.2,190.4L347.1,192.9L351.1,191.3L353.5,195.3L350.3,198.5L346.3,196.9L343.0,198.5L342.2,190.4" fill="none" stroke="#000" stroke-width="1.6" stroke-linejoin="round" stroke-linecap="round"/>
<path d="M343.8,182.4L347.9,184.8L351.9,186.4L354.4,189.6" fill="none" stroke="#000" stroke-width="1.4" stroke-linejoin="round" stroke-linecap="round"/>
<path d="M340.6,186.4L343.8,188.0L345.4,191.3" fill="none" stroke="#000" stroke-width="1.6" stroke-linejoin="round" stroke-linecap="round"/>
<path d="M338.2,179.9L343.0,181.6L339.8,184.8L344.6,186.4" fill="none" stroke="#000" stroke-width="1.6" stroke-linejoin="round" stroke-linecap="round"/>
<path d="M358.4,192.9L355.2,198.5L351.1,205.8L347.1,213.1L343.8,219.6" fill="none" stroke="#000" stroke-width="2.6" stroke-linejoin="round" stroke-linecap="round"/>
<path d="M358.4,192.9L360.8,189.6L365.7,188.8L371.3,190.4L377.8,192.9L384.3,195.3L390.8,198.5L395.6,201.0L400.5,202.1L406.1,206.6" fill="none" stroke="#000" stroke-width="2.8" stroke-linejoin="round" stroke-linecap="round"/>
<path d="M358.4,203.4L362.4,202.6L366.5,205.8" fill="none" stroke="#000" stroke-width="1.8" stroke-linejoin="round" stroke-linecap="round"/>
<path d="M387.5,196.2L395.0,200.0L401.2,201.2L405.0,206.2L406.2,215.0L403.8,225.0L403.0,228.8L408.8,218.8L416.2,215.5L423.8,217.5L430.0,221.2L437.5,222.5L445.0,223.8L453.8,223.0L464.0,222.5" fill="none" stroke="#000" stroke-width="2.0" stroke-linejoin="round" stroke-linecap="round"/>
<path d="M386.2,197.5L385.0,205.0L382.5,215.0L378.8,225.0L375.5,235.0L371.2,243.8L366.2,250.0L358.8,256.2L355.0,260.0L361.2,260.0L367.5,262.5L370.0,270.0L368.8,277.5L367.0,285.0L370.0,292.5L373.8,300.0" fill="none" stroke="#000" stroke-width="1.6" stroke-linejoin="round" stroke-linecap="round"/>
<path d="M357.5,257.5L356.2,262.5L352.5,272.5L350.0,281.2" fill="none" stroke="#000" stroke-width="1.6" stroke-linejoin="round" stroke-linecap="round"/>
<path d="M438.8,222.5L435.0,230.0L430.0,237.5L426.2,246.2L423.8,255.0L422.5,262.5L423.8,272.5L420.0,278.8L413.8,282.5L406.2,287.5L397.5,291.2L393.8,295.0L392.5,300.0" fill="none" stroke="#000" stroke-width="1.6" stroke-linejoin="round" stroke-linecap="round"/>
<path d="M443.1,224.4L444.4,231.2L446.2,240.0L447.5,247.5L448.1,255.0L449.4,265.0L450.6,272.5L452.5,281.2L453.8,287.5L453.1,290.0" fill="none" stroke="#000" stroke-width="1.6" stroke-linejoin="round" stroke-linecap="round"/>
<path d="M440.0,223.1L446.5,222.8L454.6,221.8L461.1,223.1L467.6,227.2L474.1,232.9L480.6,239.4L487.1,245.9L493.7,250.8L500.2,253.2L508.3,254.0L514.0,255.7L518.0,259.7L520.5,267.0L522.1,275.2L523.7,283.3L523.2,293.1L521.6,302.0" fill="none" stroke="#000" stroke-width="1.8" stroke-linejoin="round" stroke-linecap="round"/>
<path d="M453.8,289.8L457.9,289.0L462.8,288.2L466.8,289.8L470.1,293.1L472.5,295.0L475.0,293.9L477.4,291.4" fill="none" stroke="#000" stroke-width="1.6" stroke-linejoin="round" stroke-linecap="round"/>
<path d="M493.7,251.1L488.8,255.7L485.5,262.1L483.1,267.9L479.0,271.9L477.7,276.8L478.2,281.7L476.6,285.7L478.2,289.8L477.4,292.2L475.0,294.7" fill="none" stroke="#000" stroke-width="1.6" stroke-linejoin="round" stroke-linecap="round"/>
<path d="M479.0,271.9L483.9,271.1L489.6,269.5L492.9,270.3L494.5,275.2L492.0,277.6L493.7,280.0L498.5,281.7L501.0,282.5L501.8,277.6L503.4,274.4L508.3,273.5L513.2,275.2L518.0,276.8L520.8,277.6" fill="none" stroke="#000" stroke-width="1.6" stroke-linejoin="round" stroke-linecap="round"/>
<path d="M477.4,292.2L482.3,293.1L487.1,291.4L492.0,289.0L496.1,287.4L494.5,291.4L496.1,296.3L497.7,300.4L502.6,297.1L508.3,294.7L514.0,292.2L518.9,290.6L523.2,289.8" fill="none" stroke="#000" stroke-width="1.6" stroke-linejoin="round" stroke-linecap="round"/>
<path d="M440.0,310.9L446.5,307.7L450.6,312.6L452.2,318.2L457.1,312.6L461.1,310.1L464.4,307.7L468.5,306.1L472.5,308.5L478.2,311.8L483.1,314.2L486.3,313.4L488.0,310.9L493.7,314.2L497.7,316.6L503.4,315.0L509.9,312.6L516.4,310.9L519.7,310.1" fill="none" stroke="#000" stroke-width="1.6" stroke-linejoin="round" stroke-linecap="round"/>
<path d="M453.8,289.8L453.0,296.3L450.6,302.8L447.3,307.7" fill="none" stroke="#000" stroke-width="1.6" stroke-linejoin="round" stroke-linecap="round"/>
<path d="M486.3,313.4L484.7,319.1L483.1,325.6L484.7,332.1L487.1,338.6L486.3,345.1L490.0,348.8L493.0,345.5" fill="none" stroke="#000" stroke-width="1.6" stroke-linejoin="round" stroke-linecap="round"/>
<path d="M488.0,311.8L490.4,318.2L495.3,323.9L501.0,329.6L504.2,332.1" fill="none" stroke="#000" stroke-width="1.6" stroke-linejoin="round" stroke-linecap="round"/>
<path d="M535.5,237.5L535.6,237.5" fill="none" stroke="#000" stroke-width="2.2" stroke-linejoin="round" stroke-linecap="round"/>
<path d="M552.5,237.3L552.6,237.3" fill="none" stroke="#000" stroke-width="2.2" stroke-linejoin="round" stroke-linecap="round"/>
<path d="M34.5,404.5L45.0,410.0L55.0,417.5L65.0,423.8L73.8,430.0L80.0,436.2L86.2,442.5L91.2,447.5L96.2,447.0L97.5,450.0L95.0,460.0L95.5,475.0L97.0,490.0L96.2,500.0" fill="none" stroke="#000" stroke-width="1.8" stroke-linejoin="round" stroke-linecap="round"/>
<path d="M53.8,300.0L57.5,307.5L60.0,315.0L58.8,318.8L67.5,320.0L70.0,325.0L80.0,326.2L87.5,322.5L90.0,318.8L90.0,340.0L102.5,341.2L107.5,350.0L112.5,362.5L110.0,372.5L108.8,385.0L105.0,397.5L106.2,407.5L110.0,417.5L105.0,427.5L101.2,438.8L98.8,447.5L95.5,447.5" fill="none" stroke="#000" stroke-width="1.6" stroke-linejoin="round" stroke-linecap="round"/>
<path d="M101.2,438.8L107.5,442.5L111.2,452.5L115.0,462.5L112.5,472.5L116.2,482.5L115.0,492.5L117.5,500.0" fill="none" stroke="#000" stroke-width="1.6" stroke-linejoin="round" stroke-linecap="round"/>
<path d="M90.0,340.0L102.5,341.2L117.5,333.8L130.0,327.0L140.0,323.8L152.5,322.5L152.5,332.5L155.0,347.5L160.0,357.5L167.5,362.5L177.5,365.0L184.0,368.8" fill="none" stroke="#000" stroke-width="1.6" stroke-linejoin="round" stroke-linecap="round"/>
<path d="M140.0,323.8L147.5,318.8L155.0,315.0L162.5,311.2L166.2,306.2L170.0,300.0L175.0,297.5L185.0,298.0" fill="none" stroke="#000" stroke-width="1.6" stroke-linejoin="round" stroke-linecap="round"/>
<path d="M185.0,300.0L191.2,306.2L198.8,310.0L237.5,310.0L238.0,300.0L238.0,295.0L239.8,287.0" fill="none" stroke="#000" stroke-width="1.6" stroke-linejoin="round" stroke-linecap="round"/>
<path d="M245.0,300.0L247.5,307.5L256.2,316.2L324.0,323.8L336.5,325.3" fill="none" stroke="#000" stroke-width="1.6" stroke-linejoin="round" stroke-linecap="round"/>
<path d="M198.8,310.0L199.5,325.0L200.0,341.2L216.2,342.5L218.8,350.0L221.2,360.0L217.5,367.5L213.8,375.0L210.0,380.0" fill="none" stroke="#000" stroke-width="1.6" stroke-linejoin="round" stroke-linecap="round"/>
<path d="M170.0,362.5L180.0,366.2L190.0,372.5L200.0,377.5L210.0,380.0L212.5,387.5L215.0,400.0L215.5,416.2L237.5,417.5L238.0,427.5L242.5,435.0L247.5,441.2" fill="none" stroke="#000" stroke-width="1.6" stroke-linejoin="round" stroke-linecap="round"/>
<path d="M247.5,441.2L255.0,436.2L265.0,432.0L272.5,436.2L280.0,437.5L287.5,438.8L293.0,433.8L293.8,442.5L301.2,445.0" fill="none" stroke="#000" stroke-width="1.6" stroke-linejoin="round" stroke-linecap="round"/>
<path d="M301.2,445.0L300.0,435.0L305.0,425.0L310.0,412.5L317.5,402.5L324.0,398.8" fill="none" stroke="#000" stroke-width="1.6" stroke-linejoin="round" stroke-linecap="round"/>
<path d="M247.5,441.2L246.2,455.0L242.5,472.5L240.5,475.0L241.2,487.5L242.5,500.0" fill="none" stroke="#000" stroke-width="1.6" stroke-linejoin="round" stroke-linecap="round"/>
<path d="M188.8,500.0L191.2,485.0L197.5,472.5L207.5,465.0L220.0,462.5L232.5,466.2L242.0,472.5" fill="none" stroke="#000" stroke-width="1.6" stroke-linejoin="round" stroke-linecap="round"/>
<path d="M350.0,280.0L347.5,290.0L343.8,302.5L340.0,312.5L336.2,322.5L333.8,333.8L332.5,345.0L333.8,355.0L335.0,365.0L333.8,375.0L330.0,385.0L325.0,395.0L320.0,402.5L315.0,408.8L310.0,413.8" fill="none" stroke="#000" stroke-width="1.6" stroke-linejoin="round" stroke-linecap="round"/>
<path d="M368.8,280.0L367.5,287.5L372.5,295.0L376.2,300.0L377.5,310.0L378.8,317.5L382.5,323.8L386.2,328.8L383.8,337.5L381.2,345.0L385.0,352.5L383.8,360.0L385.0,370.0L384.5,380.0L386.2,390.0L387.5,397.5L388.8,402.5" fill="none" stroke="#000" stroke-width="1.6" stroke-linejoin="round" stroke-linecap="round"/>
<path d="M392.5,300.5L390.5,307.5L389.5,317.5L390.5,329.5L386.2,328.8" fill="none" stroke="#000" stroke-width="1.6" stroke-linejoin="round" stroke-linecap="round"/>
<path d="M390.5,330.0L395.0,336.2L401.2,340.0L407.5,336.2L412.5,330.0L415.0,322.5L420.0,318.8L428.8,317.5L437.5,313.8L445.0,308.8L450.0,303.8L453.8,297.5L455.0,290.0L452.5,285.0L456.2,280.0" fill="none" stroke="#000" stroke-width="1.6" stroke-linejoin="round" stroke-linecap="round"/>
<path d="M450.0,309.5L453.8,317.5L460.0,315.0L464.0,310.0" fill="none" stroke="#000" stroke-width="1.6" stroke-linejoin="round" stroke-linecap="round"/>
<path d="M335.0,365.0L341.2,370.0L348.8,367.5L353.8,371.2L358.8,375.0L366.2,373.8L372.5,372.5L378.8,370.0L384.5,368.8" fill="none" stroke="#000" stroke-width="1.6" stroke-linejoin="round" stroke-linecap="round"/>
<path d="M388.8,402.5L395.0,400.0L402.5,393.8L408.8,390.0L415.0,391.2L420.0,396.2L427.5,400.0L435.0,402.5L442.5,407.5L447.5,410.2L450.0,411.0" fill="none" stroke="#000" stroke-width="1.6" stroke-linejoin="round" stroke-linecap="round"/>
<path d="M388.8,402.5L382.5,397.5L378.8,402.5L376.2,410.0L372.5,413.8L370.0,420.0L371.2,430.0L370.0,440.0L368.8,447.5L360.0,450.0L350.0,452.5L341.2,453.8L335.0,457.5L331.2,465.0L327.5,470.0" fill="none" stroke="#000" stroke-width="1.6" stroke-linejoin="round" stroke-linecap="round"/>
<path d="M360.0,408.0L371.2,408.0L371.2,415.0L360.0,415.0L360.0,408.0" fill="none" stroke="#000" stroke-width="1.6" stroke-linejoin="round" stroke-linecap="round"/>
<path d="M327.5,470.0L337.5,473.8L347.5,472.5L357.5,471.2L367.5,473.8L371.2,480.0" fill="none" stroke="#000" stroke-width="1.6" stroke-linejoin="round" stroke-linecap="round"/>
<path d="M522.5,300.0L518.8,310.0L512.5,318.8L506.2,327.5L500.0,336.2L493.8,346.2L488.8,356.2L482.5,365.0L477.5,370.0L473.8,373.8L472.0,380.0L473.8,390.0L473.0,405.0L473.8,417.5L471.2,430.0L470.5,440.0L466.2,447.5L463.8,457.5L462.5,465.0L458.8,475.0L453.8,483.8L450.0,487.5" fill="none" stroke="#000" stroke-width="1.8" stroke-linejoin="round" stroke-linecap="round"/>
<path d="M450.0,410.5L456.2,411.5L461.2,415.0L460.0,421.2L455.0,425.0L453.8,432.5L457.5,437.5L461.2,442.5L460.0,445.5" fill="none" stroke="#000" stroke-width="1.6" stroke-linejoin="round" stroke-linecap="round"/>
<path d="M450.0,443.8L456.2,442.5L461.2,443.0L465.0,440.0L470.0,438.8" fill="none" stroke="#000" stroke-width="1.6" stroke-linejoin="round" stroke-linecap="round"/>
<path d="M471.2,440.0L466.2,446.2L463.8,455.0L463.8,462.5L461.2,471.2L456.2,481.2L450.0,490.0L448.8,498.8L442.5,505.0L437.5,510.0L437.5,515.0L430.0,515.0L422.5,513.8L415.0,516.2L407.5,518.8L400.0,521.2" fill="none" stroke="#000" stroke-width="1.8" stroke-linejoin="round" stroke-linecap="round"/>
<path d="M458.8,440.0L451.2,443.8L447.5,448.8L448.8,455.0L445.0,458.8L446.2,465.0L443.8,472.5L440.0,477.5L437.5,486.2L441.2,490.0L448.8,490.0" fill="none" stroke="#000" stroke-width="1.6" stroke-linejoin="round" stroke-linecap="round"/>
<path d="M437.5,486.2L433.8,493.8L427.5,498.8L421.2,502.5L413.8,503.5" fill="none" stroke="#000" stroke-width="1.6" stroke-linejoin="round" stroke-linecap="round"/>
<path d="M448.8,500.0L445.0,505.0L437.5,510.0L435.0,516.2L427.5,515.0L420.0,513.8L412.5,516.2L405.0,518.8L397.5,525.0L390.0,528.8L382.5,532.5L375.0,537.5L367.5,542.5L361.2,547.5L357.5,553.8L356.2,562.5L356.2,575.0L358.8,582.5L356.2,592.5L351.2,600.0L345.0,607.5L338.8,616.2L335.0,625.0L330.0,632.5L323.8,640.0L316.2,647.5L310.0,656.2" fill="none" stroke="#000" stroke-width="1.8" stroke-linejoin="round" stroke-linecap="round"/>
<path d="M330.6,624.4L328.1,622.8L325.0,624.4L323.1,628.8L321.2,633.1L317.5,636.2L315.0,640.0L312.8,643.8L312.2,647.5L314.4,648.1L317.5,645.6L321.2,642.5L325.0,638.8L328.1,633.8L330.0,629.4L330.6,624.4" fill="none" stroke="#000" stroke-width="2.0" stroke-linejoin="round" stroke-linecap="round"/>
<path d="M310.0,566.2L317.5,567.5L322.5,568.8L325.0,562.5L331.2,560.0L340.0,561.2L347.5,560.0L356.2,559.5" fill="none" stroke="#000" stroke-width="1.6" stroke-linejoin="round" stroke-linecap="round"/>
<path d="M308.0,577.0L317.5,582.5L325.0,588.8L331.2,595.0L338.8,596.2L342.5,598.8L341.2,606.2L338.8,608.8" fill="none" stroke="#000" stroke-width="1.6" stroke-linejoin="round" stroke-linecap="round"/>
<path d="M311.2,655.0L309.5,661.2L305.0,666.2L300.0,671.2L297.5,675.0L293.8,681.2L287.5,686.2L280.0,688.8L275.0,689.2L265.0,687.5L255.0,683.8L245.0,680.0L237.5,675.0L236.2,670.0L237.5,662.5" fill="none" stroke="#000" stroke-width="1.8" stroke-linejoin="round" stroke-linecap="round"/>
<path d="M236.2,675.0L237.5,682.5L241.2,690.5" fill="none" stroke="#000" stroke-width="1.8" stroke-linejoin="round" stroke-linecap="round"/>
<path d="M245.0,622.5L242.5,635.0L240.0,650.0L237.5,662.5L236.2,675.0" fill="none" stroke="#000" stroke-width="1.6" stroke-linejoin="round" stroke-linecap="round"/>
<path d="M248.8,621.2L255.0,618.8L261.2,625.0L268.8,632.5L272.5,630.0L280.0,638.8L287.5,645.0L295.0,652.5L301.2,657.5L297.5,665.0L296.2,672.5" fill="none" stroke="#000" stroke-width="1.6" stroke-linejoin="round" stroke-linecap="round"/>
<path d="M245.0,622.5L250.0,616.2L256.2,606.2L263.8,596.2L272.5,587.5L280.0,581.2L290.0,576.2L295.0,573.8L293.8,565.0L292.5,556.2L287.5,552.5L283.8,558.8L280.0,567.5L273.8,575.0L270.0,578.8L262.5,581.2L255.0,580.0L245.0,577.5L235.0,576.2" fill="none" stroke="#000" stroke-width="1.6" stroke-linejoin="round" stroke-linecap="round"/>
<path d="M186.2,500.0L195.0,515.0L207.5,525.0L220.0,533.8L232.5,541.2L242.5,546.2L246.2,548.8L243.8,557.5L240.0,565.0L236.2,575.0L235.0,576.2" fill="none" stroke="#000" stroke-width="1.6" stroke-linejoin="round" stroke-linecap="round"/>
<path d="M242.5,500.0L247.5,503.8L256.2,505.0L262.5,502.5L266.2,500.0" fill="none" stroke="#000" stroke-width="1.6" stroke-linejoin="round" stroke-linecap="round"/>
<path d="M295.0,573.8L302.5,572.5L309.5,575.5" fill="none" stroke="#000" stroke-width="1.6" stroke-linejoin="round" stroke-linecap="round"/>
<path d="M293.8,565.0L302.5,565.5L312.5,566.2" fill="none" stroke="#000" stroke-width="1.6" stroke-linejoin="round" stroke-linecap="round"/>
<path d="M96.2,500.0L95.5,510.0L91.2,517.5L90.0,530.0L90.0,545.0L88.0,557.5L86.2,572.5L83.8,585.0L81.2,600.0L80.0,615.0L77.5,630.0L78.8,645.0L77.5,660.0L76.2,672.5L72.5,682.5L70.0,691.2" fill="none" stroke="#000" stroke-width="1.8" stroke-linejoin="round" stroke-linecap="round"/>
<path d="M117.5,500.0L123.8,510.0L132.5,515.0L130.0,522.5L125.0,530.0L117.5,537.5L115.0,546.2L116.2,557.5L117.5,570.0L113.8,575.0L108.8,580.0L105.0,590.0L101.2,600.0L98.8,610.0L96.2,620.0L92.5,632.5L91.2,642.5L95.0,650.0L97.0,660.0L96.2,670.0L97.5,680.0L93.8,686.2L92.5,691.2" fill="none" stroke="#000" stroke-width="1.6" stroke-linejoin="round" stroke-linecap="round"/>
<path d="M132.5,515.0L137.5,502.5L145.0,500.0" fill="none" stroke="#000" stroke-width="1.6" stroke-linejoin="round" stroke-linecap="round"/>
<path d="M142.5,500.0L150.0,501.2L160.0,502.5L165.0,513.8L168.8,503.8L175.0,501.2L184.0,502.5" fill="none" stroke="#000" stroke-width="1.6" stroke-linejoin="round" stroke-linecap="round"/>
<path d="M293.8,437.5L296.2,442.5L303.8,450.0L315.0,456.2L326.2,462.5L330.0,465.0L325.0,472.5L321.2,480.0L317.5,490.0L313.8,498.8L306.2,506.2L298.8,511.8" fill="none" stroke="#000" stroke-width="1.6" stroke-linejoin="round" stroke-linecap="round"/>
<path d="M265.5,500.0L267.5,503.8L270.0,512.5L272.5,522.5L273.8,528.8L281.2,528.8L287.5,531.2L288.0,535.0" fill="none" stroke="#000" stroke-width="1.6" stroke-linejoin="round" stroke-linecap="round"/>
<path d="M298.8,511.8L292.5,517.5L288.8,527.5L287.5,537.5L285.0,547.5L287.5,552.5" fill="none" stroke="#000" stroke-width="1.6" stroke-linejoin="round" stroke-linecap="round"/>
<path d="M298.8,511.8L306.2,510.0L315.0,509.5L325.0,512.0L335.0,514.2L340.0,517.5L342.5,526.2L346.2,535.0L348.8,540.0L356.2,542.0L360.0,545.0" fill="none" stroke="#000" stroke-width="1.6" stroke-linejoin="round" stroke-linecap="round"/>
<path d="M372.9,478.4L374.5,488.1L378.5,492.9L381.8,496.2L381.8,504.3L381.0,509.1L384.2,513.2L389.9,513.2L394.7,509.9L401.2,508.3L407.7,505.9L414.1,503.5L418.2,502.3" fill="none" stroke="#000" stroke-width="1.6" stroke-linejoin="round" stroke-linecap="round"/>
</g>
<rect x="36.0" y="108.5" width="546.0" height="582.0" fill="none" stroke="#000" stroke-width="1.6"/>
<path d="M36.0,690.5v3.5M96.7,690.5v3.5M157.3,690.5v3.5M218.0,690.5v3.5M278.7,690.5v3.5M339.3,690.5v3.5M400.0,690.5v3.5M460.7,690.5v3.5M521.3,690.5v3.5M582.0,690.5v3.5M36.0,108.5h-3.5M36.0,181.2h-3.5M36.0,254.0h-3.5M36.0,326.8h-3.5M36.0,399.5h-3.5M36.0,472.2h-3.5M36.0,545.0h-3.5M36.0,617.8h-3.5M36.0,690.5h-3.5" stroke="#000" stroke-width="1.3" fill="none"/>
<rect x="36.00" y="741.5" width="23.74" height="15" fill="#ffffff" stroke="#000" stroke-width="1.2"/>
<rect x="59.74" y="741.5" width="23.74" height="15" fill="#ffaaff" stroke="#000" stroke-width="1.2"/>
<rect x="83.48" y="741.5" width="23.74" height="15" fill="#ff55ff" stroke="#000" stroke-width="1.2"/>
<rect x="107.22" y="741.5" width="23.74" height="15" fill="#ff00ff" stroke="#000" stroke-width="1.2"/>
<rect x="130.96" y="741.5" width="23.74" height="15" fill="#cc00cc" stroke="#000" stroke-width="1.2"/>
<rect x="154.70" y="741.5" width="23.74" height="15" fill="#9900aa" stroke="#000" stroke-width="1.2"/>
<rect x="178.43" y="741.5" width="23.74" height="15" fill="#660088" stroke="#000" stroke-width="1.2"/>
<rect x="202.17" y="741.5" width="23.74" height="15" fill="#4400aa" stroke="#000" stroke-width="1.2"/>
<rect x="225.91" y="741.5" width="23.74" height="15" fill="#2200cc" stroke="#000" stroke-width="1.2"/>
<rect x="249.65" y="741.5" width="23.74" height="15" fill="#0000ee" stroke="#000" stroke-width="1.2"/>
<rect x="273.39" y="741.5" width="23.74" height="15" fill="#0033ff" stroke="#000" stroke-width="1.2"/>
<rect x="297.13" y="741.5" width="23.74" height="15" fill="#0088ff" stroke="#000" stroke-width="1.2"/>
<rect x="320.87" y="741.5" width="23.74" height="15" fill="#00ccff" stroke="#000" stroke-width="1.2"/>
<rect x="344.61" y="741.5" width="23.74" height="15" fill="#22ffdd" stroke="#000" stroke-width="1.2"/>
<rect x="368.35" y="741.5" width="23.74" height="15" fill="#77ff88" stroke="#000" stroke-width="1.2"/>
<rect x="392.09" y="741.5" width="23.74" height="15" fill="#bbff44" stroke="#000" stroke-width="1.2"/>
<rect x="415.83" y="741.5" width="23.74" height="15" fill="#ffea00" stroke="#000" stroke-width="1.2"/>
<rect x="439.57" y="741.5" width="23.74" height="15" fill="#ff9900" stroke="#000" stroke-width="1.2"/>
<rect x="463.30" y="741.5" width="23.74" height="15" fill="#ff5000" stroke="#000" stroke-width="1.2"/>
<rect x="487.04" y="741.5" width="23.74" height="15" fill="#ff0000" stroke="#000" stroke-width="1.2"/>
<rect x="510.78" y="741.5" width="23.74" height="15" fill="#cc0000" stroke="#000" stroke-width="1.2"/>
<rect x="534.52" y="741.5" width="23.74" height="15" fill="#aa0000" stroke="#000" stroke-width="1.2"/>
<rect x="558.26" y="741.5" width="23.74" height="15" fill="#880000" stroke="#000" stroke-width="1.2"/>
</svg>
<svg width="618" height="105" viewBox="0 0 618 105" style="z-index:2"><g font-family="Liberation Sans, DejaVu Sans, sans-serif" font-size="25.4" fill="#000" stroke="#fff" stroke-width="0.7">
<text transform="translate(63.0,96.8) scale(0.976,1)">Temp.</text>
<text transform="translate(142.7,96.8) scale(0.914,1)">Max.</text>
<text transform="translate(208.8,96.8) scale(0.892,1)">Obs.</text>
<text transform="translate(270.6,96.8) scale(1.0,1)">2m</text>
<text transform="translate(320.5,96.8) scale(0.855,1)">CPC</text>
<text transform="translate(377.2,96.8) scale(1.026,1)">(oC)</text>
<text transform="translate(440.7,96.8) scale(1.049,1)">Dez/2018</text>
</g></svg>
<div class="ax ay" style="right:588px;top:102.5px">5N</div>
<div class="ax ay" style="right:588px;top:175.2px">EQ</div>
<div class="ax ay" style="right:588px;top:248.0px">5S</div>
<div class="ax ay" style="right:588px;top:320.8px">10S</div>
<div class="ax ay" style="right:588px;top:393.5px">15S</div>
<div class="ax ay" style="right:588px;top:466.2px">20S</div>
<div class="ax ay" style="right:588px;top:539.0px">25S</div>
<div class="ax ay" style="right:588px;top:611.8px">30S</div>
<div class="ax ay" style="right:588px;top:684.5px">35S</div>
<div class="ax axx" style="left:16.0px;width:40px;text-align:center;top:695px">75W</div>
<div class="ax axx" style="left:76.7px;width:40px;text-align:center;top:695px">70W</div>
<div class="ax axx" style="left:137.3px;width:40px;text-align:center;top:695px">65W</div>
<div class="ax axx" style="left:198.0px;width:40px;text-align:center;top:695px">60W</div>
<div class="ax axx" style="left:258.7px;width:40px;text-align:center;top:695px">55W</div>
<div class="ax axx" style="left:319.3px;width:40px;text-align:center;top:695px">50W</div>
<div class="ax axx" style="left:380.0px;width:40px;text-align:center;top:695px">45W</div>
<div class="ax axx" style="left:440.7px;width:40px;text-align:center;top:695px">40W</div>
<div class="ax axx" style="left:501.3px;width:40px;text-align:center;top:695px">35W</div>
<div class="ax axx" style="left:562.0px;width:40px;text-align:center;top:695px">30W</div>
<div class="cb" style="left:44.7px;top:759px">0</div>
<div class="cb" style="left:68.5px;top:759px">2</div>
<div class="cb" style="left:92.2px;top:759px">4</div>
<div class="cb" style="left:116.0px;top:759px">6</div>
<div class="cb" style="left:139.7px;top:759px">8</div>
<div class="cb" style="left:163.4px;top:759px">10</div>
<div class="cb" style="left:187.2px;top:759px">12</div>
<div class="cb" style="left:210.9px;top:759px">14</div>
<div class="cb" style="left:234.7px;top:759px">16</div>
<div class="cb" style="left:258.4px;top:759px">18</div>
<div class="cb" style="left:282.1px;top:759px">20</div>
<div class="cb" style="left:305.9px;top:759px">22</div>
<div class="cb" style="left:329.6px;top:759px">24</div>
<div class="cb" style="left:353.3px;top:759px">26</div>
<div class="cb" style="left:377.1px;top:759px">28</div>
<div class="cb" style="left:400.8px;top:759px">30</div>
<div class="cb" style="left:424.6px;top:759px">32</div>
<div class="cb" style="left:448.3px;top:759px">34</div>
<div class="cb" style="left:472.0px;top:759px">36</div>
<div class="cb" style="left:495.8px;top:759px">38</div>
<div class="cb" style="left:519.5px;top:759px">40</div>
<div class="cb" style="left:543.3px;top:759px">42</div>
</body></html>
